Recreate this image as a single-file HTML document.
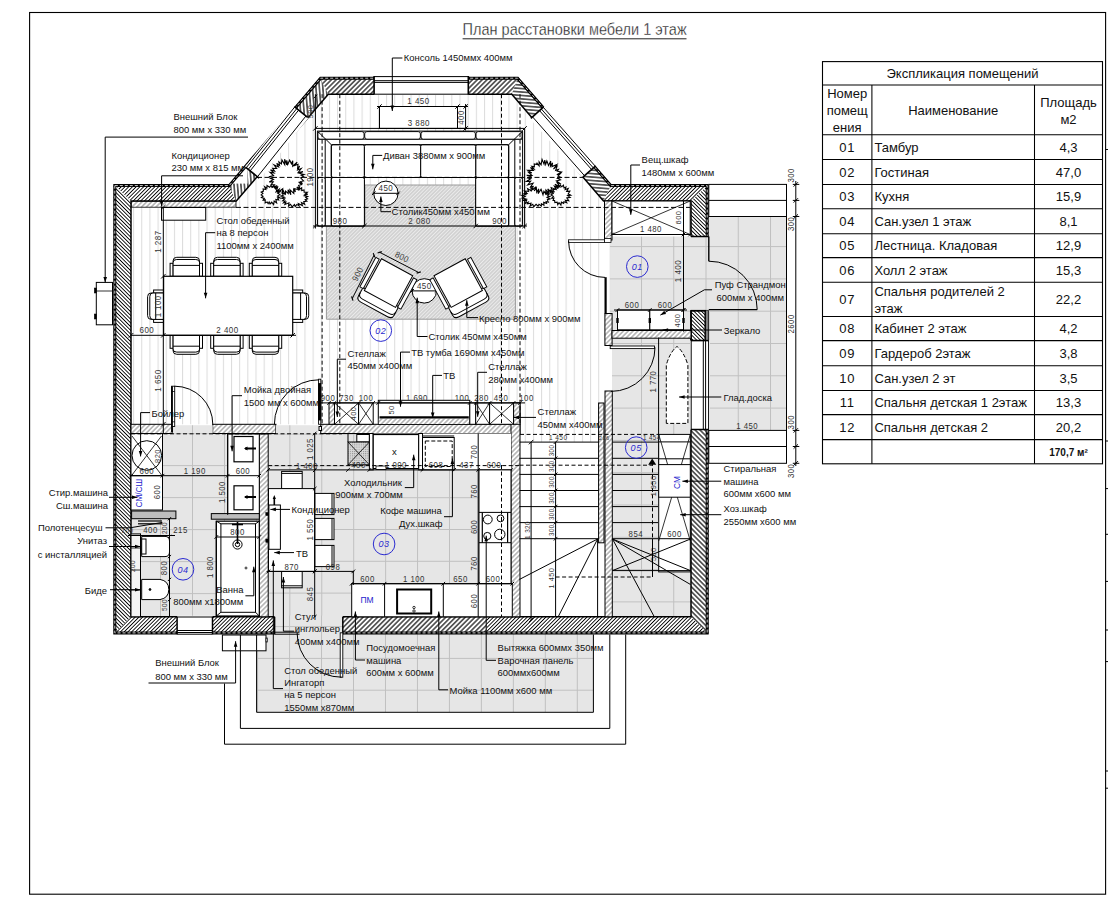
<!DOCTYPE html>
<html><head><meta charset="utf-8"><title>plan</title><style>html,body{margin:0;padding:0;background:#fff}svg{display:block}</style></head><body>
<svg width="1108" height="909" viewBox="0 0 1108 909" font-family="Liberation Sans, sans-serif">
<defs>
<pattern id="hw" width="10" height="2.6" patternUnits="userSpaceOnUse"><rect width="10" height="2.6" fill="#fff"/><line x1="0" y1="1.3" x2="10" y2="1.3" stroke="#000" stroke-width="1"/></pattern>
<pattern id="hA" width="10" height="2.64" patternUnits="userSpaceOnUse" patternTransform="rotate(-45)"><rect width="10" height="2.64" fill="#fff"/><line x1="0" y1="1.32" x2="10" y2="1.32" stroke="#000" stroke-width="0.9"/></pattern>
<pattern id="hB" width="10" height="2.64" patternUnits="userSpaceOnUse" patternTransform="rotate(45)"><rect width="10" height="2.64" fill="#fff"/><line x1="0" y1="1.32" x2="10" y2="1.32" stroke="#000" stroke-width="0.9"/></pattern>
<pattern id="hA2" width="10" height="3.44" patternUnits="userSpaceOnUse" patternTransform="rotate(-45)"><rect width="10" height="3.44" fill="#fff"/><line x1="0" y1="1.72" x2="10" y2="1.72" stroke="#000" stroke-width="1.15"/></pattern>
<pattern id="hB2" width="10" height="3.44" patternUnits="userSpaceOnUse" patternTransform="rotate(45)"><rect width="10" height="3.44" fill="#fff"/><line x1="0" y1="1.72" x2="10" y2="1.72" stroke="#000" stroke-width="1.15"/></pattern>
<pattern id="hC" width="10" height="3.44" patternUnits="userSpaceOnUse" patternTransform="rotate(-94.6)"><rect width="10" height="3.44" fill="#fff"/><line x1="0" y1="1.72" x2="10" y2="1.72" stroke="#000" stroke-width="1.15"/></pattern>
<pattern id="hD" width="10" height="3.44" patternUnits="userSpaceOnUse" patternTransform="rotate(4.6)"><rect width="10" height="3.44" fill="#fff"/><line x1="0" y1="1.72" x2="10" y2="1.72" stroke="#000" stroke-width="1.15"/></pattern>
<pattern id="hl" width="10" height="3.4" patternUnits="userSpaceOnUse" patternTransform="rotate(-45)"><rect width="10" height="3.4" fill="#fff"/><line x1="0" y1="1.7" x2="10" y2="1.7" stroke="#7c7c7c" stroke-width="0.9"/></pattern>
<pattern id="hc" width="10" height="2.56" patternUnits="userSpaceOnUse" patternTransform="rotate(-45)"><rect width="10" height="2.56" fill="#cbcbcb"/><line x1="0" y1="1.28" x2="10" y2="1.28" stroke="#ececec" stroke-width="1.25"/></pattern>
<pattern id="tk" x="353.2" y="529.0" width="31.93" height="31.8" patternUnits="userSpaceOnUse"><rect width="31.93" height="31.8" fill="#e6e6e6"/><path d="M0.5 0V31.8M0 0.5H31.93" stroke="#c0c0c0" stroke-width="1" fill="none"/></pattern>
<pattern id="tb" x="192.0" y="529.1" width="32" height="32" patternUnits="userSpaceOnUse"><rect width="32" height="32" fill="#e6e6e6"/><path d="M0.5 0V32M0 0.5H32" stroke="#c0c0c0" stroke-width="1" fill="none"/></pattern>
<pattern id="tr" x="353.0" y="657.9" width="31.97" height="31.8" patternUnits="userSpaceOnUse"><rect width="31.97" height="31.8" fill="#e6e6e6"/><path d="M0.5 0V31.8M0 0.5H31.97" stroke="#c0c0c0" stroke-width="1" fill="none"/></pattern>
<pattern id="tt" x="641.0" y="246.1" width="32.25" height="32.3" patternUnits="userSpaceOnUse"><rect width="32.25" height="32.3" fill="#e6e6e6"/><path d="M0.5 0V32.3M0 0.5H32.25" stroke="#c0c0c0" stroke-width="1" fill="none"/></pattern>
<pattern id="fl" x="133.1" y="0" width="8.16" height="20" patternUnits="userSpaceOnUse"><rect width="8.16" height="20" fill="#fff"/><line x1="0.5" y1="0" x2="0.5" y2="20" stroke="#dcdcdc" stroke-width="1"/></pattern>
</defs>
<rect width="1108" height="909" fill="#fff"/>
<path d="M131 201 L236.3 201 L328.3 94.2 L511.8 94.2 L603.5 201 L605 201 L605 403 L598.6 403 L598.6 442 L520 442 L520 424.3 L131 424.3 Z" fill="url(#fl)" stroke="none" stroke-width="0" />
<rect x="609.8" y="236.5" width="81.2" height="94" fill="url(#tt)" stroke="none" stroke-width="0" />
<rect x="691" y="236.5" width="18" height="74.2" fill="url(#tt)" stroke="none" stroke-width="0" />
<rect x="708.8" y="216.5" width="77.7" height="213.5" fill="url(#tt)" stroke="none" stroke-width="0" />
<rect x="612" y="338.2" width="79" height="278.6" fill="url(#tt)" stroke="none" stroke-width="0" />
<rect x="268.2" y="433.4" width="242.8" height="183.4" fill="url(#tk)" stroke="none" stroke-width="0" />
<rect x="131" y="433.6" width="128.3" height="183.2" fill="url(#tb)" stroke="none" stroke-width="0" />
<rect x="256.6" y="634" width="336.8" height="78" fill="url(#tr)" stroke="none" stroke-width="0" />
<path d="M326.4 226 L365 226 L365 185 L475.7 185 L475.7 226 L515.4 226 L515.4 319.2 L326.4 319.2 Z" fill="url(#hc)" stroke="#9a9a9a" stroke-width="1" />
<path d="M113.6 184.4 L228.6 184.4 L236.3 201 L131 201 Z" fill="url(#hA)" stroke="none" stroke-width="0" />
<path d="M228.6 184.4 L320 77 L328.3 94.2 L236.3 201 Z" fill="url(#hC)" stroke="none" stroke-width="0" />
<path d="M320 77 L518.2 77 L511.8 94.2 L328.3 94.2 Z" fill="url(#hA2)" stroke="none" stroke-width="0" />
<path d="M518.2 77 L611.3 184.4 L603.5 201 L511.8 94.2 Z" fill="url(#hD)" stroke="none" stroke-width="0" />
<path d="M611.3 184.4 L708.5 184.4 L691 201 L603.5 201 Z" fill="url(#hA)" stroke="none" stroke-width="0" />
<path d="M708.5 184.4 L708.5 634 L691 616.8 L691 201 Z" fill="url(#hB)" stroke="none" stroke-width="0" />
<path d="M708.5 634 L113.6 634 L131 616.8 L691 616.8 Z" fill="url(#hA)" stroke="none" stroke-width="0" />
<path d="M113.6 634 L113.6 184.4 L131 201 L131 616.8 Z" fill="url(#hB)" stroke="none" stroke-width="0" />
<rect x="171" y="164" width="76.5" height="19.6" fill="#fff" stroke="none" stroke-width="0" />
<rect x="342.8" y="616.8" width="143.7" height="17.2" fill="url(#hA2)" stroke="none" stroke-width="0" />
<path d="M691 429.5 L708.5 429.5 L708.5 634 L691 616.8 Z" fill="url(#hB2)" stroke="none" stroke-width="0" />
<path d="M114.8 185.6 L229.2 185.6 L320.6 78.2 L517.6 78.2 L610.7 185.6 L707.2 185.6 L707.2 632.9 L114.8 632.9 Z" fill="none" stroke="#000" stroke-width="3.0" stroke-linejoin="miter"/>
<path d="M114.8 185.6 L229.2 185.6 L320.6 78.2 L517.6 78.2 L610.7 185.6 L707.2 185.6 L707.2 632.9 L114.8 632.9 Z" fill="none" stroke="#fff" stroke-width="0.8"  stroke-dasharray="3 2"/>
<path d="M131 201 L236.3 201 L328.3 94.2 L511.8 94.2 L603.5 201 L691 201 L691 616.8 L131 616.8 Z" fill="none" stroke="#000" stroke-width="1.5" />
<path d="M245.03 166.86 L293.53 106.06 L308.38 117.91 L259.88 178.71 Z" fill="#fff" stroke="none" stroke-width="0" />
<line x1="246.2" y1="167.8" x2="294.7" y2="107" stroke="#000" stroke-width="1"/>
<line x1="248.23" y1="169.42" x2="296.73" y2="108.62" stroke="#000" stroke-width="1"/>
<line x1="250.11" y1="170.92" x2="298.61" y2="110.12" stroke="#000" stroke-width="1"/>
<line x1="257.46" y1="176.78" x2="305.96" y2="115.98" stroke="#000" stroke-width="1"/>
<line x1="245.81" y1="167.49" x2="259.18" y2="178.15" stroke="#000" stroke-width="1.6"/>
<line x1="294.31" y1="106.69" x2="307.68" y2="117.35" stroke="#000" stroke-width="1.6"/>
<path d="M544.42 106.31 L596.42 165.21 L582.18 177.78 L530.18 118.88 Z" fill="#fff" stroke="none" stroke-width="0" />
<line x1="543.3" y1="107.3" x2="595.3" y2="166.2" stroke="#000" stroke-width="1"/>
<line x1="541.35" y1="109.02" x2="593.35" y2="167.92" stroke="#000" stroke-width="1"/>
<line x1="539.55" y1="110.61" x2="591.55" y2="169.51" stroke="#000" stroke-width="1"/>
<line x1="532.51" y1="116.83" x2="584.51" y2="175.73" stroke="#000" stroke-width="1"/>
<line x1="543.67" y1="106.97" x2="530.86" y2="118.29" stroke="#000" stroke-width="1.6"/>
<line x1="595.67" y1="165.87" x2="582.86" y2="177.19" stroke="#000" stroke-width="1.6"/>
<rect x="374.1" y="75.5" width="94.2" height="19.5" fill="#fff" stroke="none" stroke-width="0" />
<line x1="374.1" y1="76.6" x2="468.3" y2="76.6" stroke="#000" stroke-width="1"/>
<line x1="374.1" y1="80.7" x2="468.3" y2="80.7" stroke="#000" stroke-width="1"/>
<line x1="374.1" y1="82.4" x2="468.3" y2="82.4" stroke="#000" stroke-width="1"/>
<line x1="374.1" y1="94.2" x2="468.3" y2="94.2" stroke="#000" stroke-width="1"/>
<line x1="374.1" y1="76" x2="374.1" y2="94.6" stroke="#000" stroke-width="1.6"/>
<line x1="468.3" y1="76" x2="468.3" y2="94.6" stroke="#000" stroke-width="1.6"/>
<rect x="177.1" y="615.8" width="35.4" height="19.8" fill="#fff" stroke="none" stroke-width="0" />
<line x1="177.1" y1="617" x2="212.5" y2="617" stroke="#000" stroke-width="1"/>
<line x1="177.1" y1="630.5" x2="212.5" y2="630.5" stroke="#000" stroke-width="1"/>
<line x1="177.1" y1="632.5" x2="212.5" y2="632.5" stroke="#000" stroke-width="1"/>
<line x1="177.1" y1="634.2" x2="212.5" y2="634.2" stroke="#000" stroke-width="1"/>
<line x1="177.1" y1="616.8" x2="177.1" y2="634.3" stroke="#000" stroke-width="1.5"/>
<line x1="212.5" y1="616.8" x2="212.5" y2="634.3" stroke="#000" stroke-width="1.5"/>
<rect x="274.6" y="615.5" width="68.2" height="20.1" fill="url(#tr)" stroke="none" stroke-width="0" />
<line x1="274.6" y1="616.8" x2="274.6" y2="634.3" stroke="#000" stroke-width="1.5"/>
<line x1="342.8" y1="616.8" x2="342.8" y2="634.3" stroke="#000" stroke-width="1.5"/>
<line x1="274.6" y1="632.2" x2="299.5" y2="632.2" stroke="#000" stroke-width="1"/>
<line x1="274.6" y1="634.2" x2="299.5" y2="634.2" stroke="#000" stroke-width="1"/>
<rect x="690" y="236.5" width="20" height="74.2" fill="url(#tt)" stroke="none" stroke-width="0" />
<line x1="691" y1="236.5" x2="708.8" y2="236.5" stroke="#000" stroke-width="1.5"/>
<line x1="691" y1="310.7" x2="708.8" y2="310.7" stroke="#000" stroke-width="1.5"/>
<rect x="705.2" y="310.7" width="4.8" height="30.1" fill="#fff" stroke="none" stroke-width="0" />
<rect x="691" y="310.7" width="14.2" height="29.9" fill="none" stroke="#000" stroke-width="1.5" />
<line x1="707" y1="310.7" x2="707" y2="340.6" stroke="#000" stroke-width="1"/>
<line x1="708.7" y1="310.7" x2="708.7" y2="340.6" stroke="#000" stroke-width="1"/>
<rect x="690" y="340.6" width="20" height="88.9" fill="#fff" stroke="none" stroke-width="0" />
<line x1="691.2" y1="340.6" x2="691.2" y2="429.5" stroke="#000" stroke-width="1"/>
<line x1="703.3" y1="340.6" x2="703.3" y2="429.5" stroke="#000" stroke-width="1"/>
<line x1="705.6" y1="340.6" x2="705.6" y2="429.5" stroke="#000" stroke-width="1"/>
<line x1="708.6" y1="340.6" x2="708.6" y2="429.5" stroke="#000" stroke-width="1"/>
<line x1="691" y1="340.6" x2="708.8" y2="340.6" stroke="#000" stroke-width="1.5"/>
<line x1="691" y1="429.5" x2="708.8" y2="429.5" stroke="#000" stroke-width="1.5"/>
<rect x="131.5" y="201.5" width="104.5" height="5.7" fill="url(#hl)" stroke="#000" stroke-width="0.8" />
<rect x="131" y="424.3" width="41.2" height="9.2" fill="url(#hl)" stroke="#000" stroke-width="1" />
<rect x="212.7" y="424.3" width="63.2" height="9.2" fill="url(#hl)" stroke="#000" stroke-width="1" />
<rect x="320.7" y="424.3" width="199.3" height="9.2" fill="url(#hl)" stroke="#000" stroke-width="1" />
<rect x="511" y="403" width="9" height="213.8" fill="url(#hl)" stroke="#000" stroke-width="1" />
<rect x="259.3" y="434" width="8.9" height="182.8" fill="url(#hl)" stroke="#000" stroke-width="1" />
<rect x="598.6" y="403" width="5.4" height="139.8" fill="url(#hl)" stroke="#000" stroke-width="1" />
<rect x="605" y="391" width="7.3" height="225.8" fill="url(#hl)" stroke="#000" stroke-width="1" />
<rect x="604.5" y="201" width="7.5" height="39" fill="url(#hl)" stroke="#000" stroke-width="1" />
<rect x="604.9" y="313.5" width="7.2" height="32" fill="url(#hl)" stroke="#000" stroke-width="1" />
<rect x="612" y="330.5" width="79" height="7.7" fill="url(#hl)" stroke="#000" stroke-width="1" />
<line x1="605.6" y1="277.2" x2="605.6" y2="313.5" stroke="#000" stroke-width="2.2"/>
<rect x="708.8" y="184.4" width="77.7" height="32.1" fill="#fff" stroke="#000" stroke-width="1" />
<line x1="708.8" y1="200.4" x2="786.5" y2="200.4" stroke="#000" stroke-width="1"/>
<line x1="786.5" y1="184.4" x2="786.5" y2="463" stroke="#000" stroke-width="1"/>
<rect x="708.8" y="430.4" width="77.7" height="32.9" fill="#fff" stroke="#000" stroke-width="1" />
<line x1="708.8" y1="446.5" x2="786.5" y2="446.5" stroke="#000" stroke-width="1"/>
<path d="M256.6 651 L256.6 712.3 L593.4 712.3 L593.4 634.5" fill="none" stroke="#000" stroke-width="1" />
<path d="M240.4 635 L240.4 728.4 L609.8 728.4 L609.8 634.5" fill="none" stroke="#000" stroke-width="1" />
<path d="M224.5 683.5 L224.5 744.2 L625.7 744.2 L625.7 634.5" fill="none" stroke="#000" stroke-width="1" />
<rect x="379.5" y="106.5" width="78" height="21.9" fill="#fff" stroke="#000" stroke-width="1" />
<path d="M317.4 131.1 L522.6 131.1 L522.6 226 L475.7 226 L475.7 177.5 L364.4 177.5 L364.4 226 L317.4 226 Z" fill="#fff" stroke="#000" stroke-width="1" />
<line x1="315.4" y1="128.4" x2="524.6" y2="128.4" stroke="#000" stroke-width="1"/>
<line x1="315.4" y1="128.4" x2="315.4" y2="228.5" stroke="#000" stroke-width="1"/>
<line x1="524.6" y1="128.4" x2="524.6" y2="228.5" stroke="#000" stroke-width="1"/>
<line x1="317.4" y1="139.2" x2="522.6" y2="139.2" stroke="#000" stroke-width="1"/>
<line x1="325.2" y1="139.2" x2="325.2" y2="226" stroke="#000" stroke-width="1"/>
<line x1="514.8" y1="139.2" x2="514.8" y2="226" stroke="#000" stroke-width="1"/>
<rect x="317.9" y="131.6" width="46.2" height="7.6" fill="#fff" stroke="#000" stroke-width="1" rx="2.2" />
<rect x="364.7" y="131.6" width="55.7" height="7.6" fill="#fff" stroke="#000" stroke-width="1" rx="2.2" />
<rect x="421" y="131.6" width="54.4" height="7.6" fill="#fff" stroke="#000" stroke-width="1" rx="2.2" />
<rect x="476" y="131.6" width="46.1" height="7.6" fill="#fff" stroke="#000" stroke-width="1" rx="2.2" />
<line x1="317.4" y1="131.1" x2="331.3" y2="144.7" stroke="#000" stroke-width="1"/>
<line x1="522.6" y1="131.1" x2="508.7" y2="144.7" stroke="#000" stroke-width="1"/>
<rect x="331.3" y="144.7" width="33.1" height="32.8" fill="#fff" stroke="#000" stroke-width="1" rx="1.8" />
<rect x="475.7" y="144.7" width="33" height="32.8" fill="#fff" stroke="#000" stroke-width="1" rx="1.8" />
<rect x="364.4" y="144.7" width="56.3" height="32.8" fill="#fff" stroke="#000" stroke-width="1" rx="1.8" />
<rect x="420.7" y="144.7" width="55" height="32.8" fill="#fff" stroke="#000" stroke-width="1" rx="1.8" />
<rect x="331.3" y="177.5" width="33.1" height="48.5" fill="#fff" stroke="#000" stroke-width="1" rx="1.8" />
<rect x="475.7" y="177.5" width="33" height="48.5" fill="#fff" stroke="#000" stroke-width="1" rx="1.8" />
<rect x="317.6" y="177.5" width="7.6" height="48.5" fill="#fff" stroke="#000" stroke-width="1" rx="1.8" />
<rect x="514.8" y="177.5" width="7.6" height="48.5" fill="#fff" stroke="#000" stroke-width="1" rx="1.8" />
<line x1="325.2" y1="177.5" x2="331.3" y2="177.5" stroke="#000" stroke-width="1"/>
<line x1="508.7" y1="177.5" x2="514.8" y2="177.5" stroke="#000" stroke-width="1"/>
<line x1="331.3" y1="144.7" x2="508.7" y2="144.7" stroke="#000" stroke-width="1"/>
<line x1="331.3" y1="144.7" x2="331.3" y2="226" stroke="#000" stroke-width="1"/>
<line x1="508.7" y1="144.7" x2="508.7" y2="226" stroke="#000" stroke-width="1"/>
<circle cx="385.9" cy="193.3" r="12.2" fill="#fff" stroke="#000" stroke-width="1"/>
<circle cx="424.3" cy="290.9" r="12.2" fill="#fff" stroke="#000" stroke-width="1"/>
<line x1="372.5" y1="193.3" x2="399.3" y2="193.3" stroke="#000" stroke-width="1"/>
<line x1="411" y1="290.9" x2="437.6" y2="290.9" stroke="#000" stroke-width="1"/>
<line x1="371.9" y1="195.1" x2="375.5" y2="191.5" stroke="#000" stroke-width="1"/>
<line x1="396.3" y1="195.1" x2="399.9" y2="191.5" stroke="#000" stroke-width="1"/>
<line x1="410.3" y1="292.7" x2="413.9" y2="289.1" stroke="#000" stroke-width="1"/>
<line x1="434.7" y1="292.7" x2="438.3" y2="289.1" stroke="#000" stroke-width="1"/>
<g transform="translate(381.5 258.8) rotate(28.5)">
<path d="M-2.5 34 L38 34 L38 43.5 Q38 48 33 48 L2.5 48 Q-2.5 48 -2.5 43.5 Z" fill="#fff" stroke="#000" stroke-width="1" />
<path d="M-2.5 40 Q-2.5 44.5 2.5 44.5 L33 44.5 Q38 44.5 38 40" fill="none" stroke="#000" stroke-width="1" />
<rect x="-5.6" y="1.5" width="3.8" height="33.5" fill="#fff" stroke="#000" stroke-width="0.9" />
<rect x="37.3" y="1.5" width="3.8" height="33.5" fill="#fff" stroke="#000" stroke-width="0.9" />
<rect x="0" y="0" width="35.5" height="36" fill="#fff" stroke="#000" stroke-width="1" />
</g>
<g transform="translate(465.2 258.8) scale(-1 1) rotate(28.5)">
<path d="M-2.5 34 L38 34 L38 43.5 Q38 48 33 48 L2.5 48 Q-2.5 48 -2.5 43.5 Z" fill="#fff" stroke="#000" stroke-width="1" />
<path d="M-2.5 40 Q-2.5 44.5 2.5 44.5 L33 44.5 Q38 44.5 38 40" fill="none" stroke="#000" stroke-width="1" />
<rect x="-5.6" y="1.5" width="3.8" height="33.5" fill="#fff" stroke="#000" stroke-width="0.9" />
<rect x="37.3" y="1.5" width="3.8" height="33.5" fill="#fff" stroke="#000" stroke-width="0.9" />
<rect x="0" y="0" width="35.5" height="36" fill="#fff" stroke="#000" stroke-width="1" />
</g>
<line x1="379.7" y1="252.3" x2="418.7" y2="272.5" stroke="#000" stroke-width="1"/>
<line x1="377.6" y1="252.97" x2="381.8" y2="251.63" stroke="#000" stroke-width="1.2"/>
<line x1="416.6" y1="273.17" x2="420.8" y2="271.83" stroke="#000" stroke-width="1.2"/>
<text transform="translate(400.67 259.56) rotate(27.38183994942497) scale(0.93 1)" font-size="8.6" text-anchor="middle" fill="#333" letter-spacing="0.5">800</text>
<line x1="352.3" y1="298.5" x2="374" y2="255.2" stroke="#000" stroke-width="1"/>
<line x1="352.99" y1="300.59" x2="351.61" y2="296.41" stroke="#000" stroke-width="1.2"/>
<line x1="374.69" y1="257.29" x2="373.31" y2="253.11" stroke="#000" stroke-width="1.2"/>
<text transform="translate(360.29 275.42) rotate(-63.382044147733005) scale(0.93 1)" font-size="8.6" text-anchor="middle" fill="#333" letter-spacing="0.5">900</text>
<g transform="translate(186.3 276.3)">
<rect x="-16.2" y="-13" width="3" height="13" fill="#fff" stroke="#000" stroke-width="1" />
<rect x="13.2" y="-13" width="3" height="13" fill="#fff" stroke="#000" stroke-width="1" />
<path d="M-13.2 0 L-13.2 -15.5 Q-13.2 -19 -9.5 -19 L9.5 -19 Q13.2 -19 13.2 -15.5 L13.2 0 Z" fill="#fff" stroke="#000" stroke-width="1" />
<path d="M-13.2 -14 Q-13.2 -16.8 -9.5 -16.8 L9.5 -16.8 Q13.2 -16.8 13.2 -14" fill="none" stroke="#000" stroke-width="1" />
<line x1="-13.2" y1="-10.9" x2="13.2" y2="-10.9" stroke="#000" stroke-width="1"/>
</g>
<g transform="translate(186.3 335.3) rotate(180)">
<rect x="-16.2" y="-13" width="3" height="13" fill="#fff" stroke="#000" stroke-width="1" />
<rect x="13.2" y="-13" width="3" height="13" fill="#fff" stroke="#000" stroke-width="1" />
<path d="M-13.2 0 L-13.2 -15.5 Q-13.2 -19 -9.5 -19 L9.5 -19 Q13.2 -19 13.2 -15.5 L13.2 0 Z" fill="#fff" stroke="#000" stroke-width="1" />
<path d="M-13.2 -14 Q-13.2 -16.8 -9.5 -16.8 L9.5 -16.8 Q13.2 -16.8 13.2 -14" fill="none" stroke="#000" stroke-width="1" />
<line x1="-13.2" y1="-10.9" x2="13.2" y2="-10.9" stroke="#000" stroke-width="1"/>
</g>
<g transform="translate(226.9 276.3)">
<rect x="-16.2" y="-13" width="3" height="13" fill="#fff" stroke="#000" stroke-width="1" />
<rect x="13.2" y="-13" width="3" height="13" fill="#fff" stroke="#000" stroke-width="1" />
<path d="M-13.2 0 L-13.2 -15.5 Q-13.2 -19 -9.5 -19 L9.5 -19 Q13.2 -19 13.2 -15.5 L13.2 0 Z" fill="#fff" stroke="#000" stroke-width="1" />
<path d="M-13.2 -14 Q-13.2 -16.8 -9.5 -16.8 L9.5 -16.8 Q13.2 -16.8 13.2 -14" fill="none" stroke="#000" stroke-width="1" />
<line x1="-13.2" y1="-10.9" x2="13.2" y2="-10.9" stroke="#000" stroke-width="1"/>
</g>
<g transform="translate(226.9 335.3) rotate(180)">
<rect x="-16.2" y="-13" width="3" height="13" fill="#fff" stroke="#000" stroke-width="1" />
<rect x="13.2" y="-13" width="3" height="13" fill="#fff" stroke="#000" stroke-width="1" />
<path d="M-13.2 0 L-13.2 -15.5 Q-13.2 -19 -9.5 -19 L9.5 -19 Q13.2 -19 13.2 -15.5 L13.2 0 Z" fill="#fff" stroke="#000" stroke-width="1" />
<path d="M-13.2 -14 Q-13.2 -16.8 -9.5 -16.8 L9.5 -16.8 Q13.2 -16.8 13.2 -14" fill="none" stroke="#000" stroke-width="1" />
<line x1="-13.2" y1="-10.9" x2="13.2" y2="-10.9" stroke="#000" stroke-width="1"/>
</g>
<g transform="translate(265.5 276.3)">
<rect x="-16.2" y="-13" width="3" height="13" fill="#fff" stroke="#000" stroke-width="1" />
<rect x="13.2" y="-13" width="3" height="13" fill="#fff" stroke="#000" stroke-width="1" />
<path d="M-13.2 0 L-13.2 -15.5 Q-13.2 -19 -9.5 -19 L9.5 -19 Q13.2 -19 13.2 -15.5 L13.2 0 Z" fill="#fff" stroke="#000" stroke-width="1" />
<path d="M-13.2 -14 Q-13.2 -16.8 -9.5 -16.8 L9.5 -16.8 Q13.2 -16.8 13.2 -14" fill="none" stroke="#000" stroke-width="1" />
<line x1="-13.2" y1="-10.9" x2="13.2" y2="-10.9" stroke="#000" stroke-width="1"/>
</g>
<g transform="translate(265.5 335.3) rotate(180)">
<rect x="-16.2" y="-13" width="3" height="13" fill="#fff" stroke="#000" stroke-width="1" />
<rect x="13.2" y="-13" width="3" height="13" fill="#fff" stroke="#000" stroke-width="1" />
<path d="M-13.2 0 L-13.2 -15.5 Q-13.2 -19 -9.5 -19 L9.5 -19 Q13.2 -19 13.2 -15.5 L13.2 0 Z" fill="#fff" stroke="#000" stroke-width="1" />
<path d="M-13.2 -14 Q-13.2 -16.8 -9.5 -16.8 L9.5 -16.8 Q13.2 -16.8 13.2 -14" fill="none" stroke="#000" stroke-width="1" />
<line x1="-13.2" y1="-10.9" x2="13.2" y2="-10.9" stroke="#000" stroke-width="1"/>
</g>
<g transform="translate(166.6 306.2) rotate(-90)">
<rect x="-16.2" y="-13" width="3" height="13" fill="#fff" stroke="#000" stroke-width="1" />
<rect x="13.2" y="-13" width="3" height="13" fill="#fff" stroke="#000" stroke-width="1" />
<path d="M-13.2 0 L-13.2 -15.5 Q-13.2 -19 -9.5 -19 L9.5 -19 Q13.2 -19 13.2 -15.5 L13.2 0 Z" fill="#fff" stroke="#000" stroke-width="1" />
<path d="M-13.2 -14 Q-13.2 -16.8 -9.5 -16.8 L9.5 -16.8 Q13.2 -16.8 13.2 -14" fill="none" stroke="#000" stroke-width="1" />
<line x1="-13.2" y1="-10.9" x2="13.2" y2="-10.9" stroke="#000" stroke-width="1"/>
</g>
<g transform="translate(289.7 306.2) rotate(90)">
<rect x="-16.2" y="-13" width="3" height="13" fill="#fff" stroke="#000" stroke-width="1" />
<rect x="13.2" y="-13" width="3" height="13" fill="#fff" stroke="#000" stroke-width="1" />
<path d="M-13.2 0 L-13.2 -15.5 Q-13.2 -19 -9.5 -19 L9.5 -19 Q13.2 -19 13.2 -15.5 L13.2 0 Z" fill="#fff" stroke="#000" stroke-width="1" />
<path d="M-13.2 -14 Q-13.2 -16.8 -9.5 -16.8 L9.5 -16.8 Q13.2 -16.8 13.2 -14" fill="none" stroke="#000" stroke-width="1" />
<line x1="-13.2" y1="-10.9" x2="13.2" y2="-10.9" stroke="#000" stroke-width="1"/>
</g>
<rect x="163.6" y="276.3" width="129.1" height="59" fill="#fff" stroke="#000" stroke-width="1.2" />
<path d="M279.88 194.6 L277.51 196.02 L279.67 197.79 L277.52 197.87 L278.7 200.02 L275.83 199.52 L276.63 202.94 L274.16 201.07 L273.63 204.63 L271.69 202.15 L270.08 203.93 L269.15 201.95 L268.12 203.7 L267.15 201.97 L265.13 202.96 L265.28 199.94 L263.15 200.15 L264.38 198.4 L261.38 197.58 L263.06 196.17 L261.13 194.85 L262.93 193.31 L261.18 192.06 L263.45 191.13 L263.11 189.04 L265.89 189.51 L264.62 186.73 L266.9 188.23 L267.01 185.54 L269.64 187.21 L271.03 185.32 L271.98 187.25 L273.67 185.64 L274.58 187.72 L276.41 186.75 L275.83 188.99 L279.07 188.87 L277.22 191.74 L280 191.6 L277.94 193.2 Z" fill="#fff" stroke="#000" stroke-width="1.1" stroke-linejoin="miter"/>
<path d="M307.63 196.42 L305.7 197.39 L307.59 198.8 L305.17 199.75 L306.85 201.16 L303.71 201.72 L304.67 204.29 L301.47 202.6 L302.48 205.61 L298.3 203.62 L299.11 205.9 L296.85 204.4 L295.2 206.52 L294.46 204.51 L292.1 206.78 L290.5 204.32 L288.5 206.02 L288.99 202.82 L284.85 204.49 L285.93 202.14 L283.57 202.73 L285.13 200.98 L282.64 200.75 L284.77 198.88 L281.61 198.17 L284.39 197.24 L280.96 196.03 L283.29 195.2 L282.3 193.15 L285.17 193.33 L283.74 191.31 L286.36 190.76 L285.66 189.1 L288.71 190.84 L288.57 188.07 L291.75 189.71 L290.94 186.49 L293.9 189.46 L295.38 187.39 L296.71 188.52 L299.46 187.15 L298.7 189.8 L301.68 187.81 L301.71 190.52 L304.03 190.03 L304.15 192.1 L307.38 192.16 L305.05 194.1 L307.8 193.98 L304.31 195.77 Z" fill="#fff" stroke="#000" stroke-width="1.1" stroke-linejoin="miter"/>
<path d="M303.56 176.26 L300.65 177.97 L303.53 180.97 L300.65 181.54 L302.47 183.64 L298.66 182.03 L301.59 184.68 L298.56 185.3 L299.76 188.42 L296.81 187.03 L299.1 189.69 L294.6 188.77 L295.39 191.95 L293.62 189.37 L293.83 193.51 L289.95 189.87 L290.86 194.8 L288.07 189.68 L288.24 193.43 L285.52 191.09 L285.27 194.92 L283.12 190.33 L282.01 193.71 L282.71 188.71 L277.99 192.27 L279.2 189.29 L276.15 191.66 L277.98 186.35 L275.01 189.04 L276.46 185.98 L272.92 187.06 L274.59 184.66 L271.27 184.46 L273.23 181.79 L269.22 181.9 L273.48 179.45 L270.65 178.51 L274.07 177.29 L268.86 176.75 L273.53 175.48 L270.08 172.42 L274 173.03 L270.52 169.81 L274.65 171.22 L272.62 168.34 L276.61 168.52 L274 164.9 L278.51 166.91 L276.71 163.33 L279.54 165.53 L278.9 161.94 L281.38 163.99 L281.91 159.97 L284.75 164.62 L284.61 159.29 L286.78 164.73 L286.75 160.26 L287.78 164.54 L289.63 159.99 L291.46 163.82 L292.73 160.67 L292.71 166.16 L297.12 162.24 L295 165.45 L298.04 164.28 L297.6 168.12 L299.68 166.05 L297.65 169.99 L301.22 168.55 L298.2 172.47 L303 171.66 L299.23 173.23 L303.9 174.56 L301.19 175.24 Z" fill="#fff" stroke="#000" stroke-width="1.1" stroke-linejoin="miter"/>
<path d="M570.71 195.16 L567.62 195.59 L570.14 197.38 L566.81 197.84 L568.74 200.74 L565.33 200.12 L566.77 202.83 L563.89 201.79 L563.66 203.36 L561.4 202.2 L560.93 205.06 L559.03 202.62 L557.74 204.62 L557.14 202.12 L554.85 202.53 L554.64 200.49 L553.07 200.45 L553.95 198.06 L551.71 198.08 L553.38 196.3 L550.93 195.01 L553.23 193.43 L551.54 191.92 L554.15 191.76 L552.87 189.67 L555.16 189.26 L554.42 187.18 L557.53 188.35 L557.78 185.53 L559.15 186.92 L560.28 185.07 L561.86 186.76 L563.35 185.1 L564.08 188 L565.91 187.03 L565.14 189.52 L568.2 188.5 L566.66 191.38 L569.88 191.19 L568.13 193.93 Z" fill="#fff" stroke="#000" stroke-width="1.1" stroke-linejoin="miter"/>
<path d="M549.86 196.55 L547.13 197.58 L549.92 198.88 L547.38 199.67 L548.29 202.16 L546.08 201.54 L546.6 203.38 L543.69 202.4 L543.95 205.27 L541.43 203.75 L541.39 205.87 L538.99 204.27 L538.02 206.16 L536.1 204.26 L533.76 206.68 L532.78 204.35 L529.99 206.22 L531.02 203.26 L527.51 203.82 L528.28 202.12 L525.31 203.42 L526.64 200.31 L522.98 200.37 L526.17 199.08 L522.19 198.11 L525.17 196.5 L522.11 195.37 L525.81 194.62 L524.28 193.61 L527.08 193.42 L524.44 191.05 L528.55 191.3 L527.65 188.78 L531.21 190.76 L530.89 187.27 L533.16 189.33 L534.3 187.46 L536.15 189.32 L536.66 187.06 L538.69 189.54 L541.44 186.76 L540.98 189.87 L544.05 188.1 L543.75 190.83 L546.18 190.42 L544.58 192.14 L548.49 192.34 L545.71 194.21 L549.29 193.88 L547.54 195.95 Z" fill="#fff" stroke="#000" stroke-width="1.1" stroke-linejoin="miter"/>
<path d="M561.01 177.55 L557.51 178.34 L560.4 179.88 L556.39 180.95 L561.04 184.17 L556.66 181.93 L559.85 186.63 L554.95 184.28 L558.81 188.04 L554.36 186.17 L556.2 189.55 L551.14 187.6 L552.7 192.08 L549.87 189.73 L551.51 193.63 L547.84 188.88 L548.83 193.62 L545.93 189.92 L545.65 193.86 L543.91 191.22 L543 194.78 L541.05 189.24 L538.14 193.68 L538.79 188.84 L536.76 192.34 L536.37 188.23 L534.25 190.96 L536.24 186.63 L531.79 190.12 L533.22 186.42 L530.61 186.87 L533.07 183.32 L527.64 184.89 L530.67 181.24 L526.51 181.46 L530.74 178.76 L527.96 178.14 L530.88 176.83 L526.71 175.2 L531.9 175.44 L528.52 172.31 L531.84 172.93 L527.79 170.34 L533.31 170.36 L530.43 167.64 L533.98 168.94 L531.83 166.39 L534.35 166.9 L534.29 163.98 L537.18 164.61 L536.7 162.72 L539.11 165.9 L539.11 161.84 L541.09 164.84 L542.05 159.41 L544.03 164.12 L544.76 160.09 L545.67 164.37 L546.87 160.84 L548.56 165.52 L550.76 161.1 L550.46 166.17 L552.57 162.91 L551.99 166.53 L556.85 164.47 L553.5 169.15 L557.36 165.44 L555.63 170.33 L558.39 169.56 L557.24 171.18 L561.47 171.92 L556.82 174.7 L560.32 173.69 L558 176.08 Z" fill="#fff" stroke="#000" stroke-width="1.1" stroke-linejoin="miter"/>
<rect x="329" y="402.9" width="5.5" height="21.4" fill="url(#hl)" stroke="#000" stroke-width="1" />
<rect x="334.5" y="402.9" width="24.1" height="21.4" fill="#fff" stroke="#000" stroke-width="1" />
<line x1="334.5" y1="402.9" x2="358.6" y2="424.3" stroke="#000" stroke-width="0.8"/>
<line x1="334.5" y1="424.3" x2="358.6" y2="402.9" stroke="#000" stroke-width="0.8"/>
<rect x="358.6" y="402.9" width="14.6" height="21.4" fill="#fff" stroke="#000" stroke-width="1" />
<line x1="358.6" y1="402.9" x2="373.2" y2="424.3" stroke="#000" stroke-width="0.8"/>
<line x1="358.6" y1="424.3" x2="373.2" y2="402.9" stroke="#000" stroke-width="0.8"/>
<rect x="378.3" y="400.3" width="91.5" height="24" fill="#fff" stroke="#000" stroke-width="1" />
<rect x="378.8" y="418.6" width="90.5" height="5.4" fill="url(#hl)" stroke="none" stroke-width="0" />
<line x1="379.5" y1="417.4" x2="468.8" y2="417.4" stroke="#000" stroke-width="2.2"/>
<line x1="378.3" y1="402.9" x2="469.8" y2="402.9" stroke="#000" stroke-width="1"/>
<rect x="469.8" y="402.9" width="5.9" height="21.4" fill="#fff" stroke="#000" stroke-width="1" />
<rect x="475.7" y="402.9" width="13.9" height="21.4" fill="#fff" stroke="#000" stroke-width="1" />
<line x1="475.7" y1="402.9" x2="489.6" y2="424.3" stroke="#000" stroke-width="0.8"/>
<line x1="475.7" y1="424.3" x2="489.6" y2="402.9" stroke="#000" stroke-width="0.8"/>
<rect x="489.6" y="402.9" width="24" height="21.4" fill="#fff" stroke="#000" stroke-width="1" />
<line x1="489.6" y1="402.9" x2="513.6" y2="424.3" stroke="#000" stroke-width="0.8"/>
<line x1="489.6" y1="424.3" x2="513.6" y2="402.9" stroke="#000" stroke-width="0.8"/>
<rect x="513.6" y="402.9" width="6.4" height="21.4" fill="url(#hl)" stroke="#000" stroke-width="1" />
<line x1="320" y1="402.9" x2="525" y2="402.9" stroke="#000" stroke-width="1"/>
<line x1="327.2" y1="404.7" x2="330.8" y2="401.1" stroke="#000" stroke-width="1"/>
<line x1="332.7" y1="404.7" x2="336.3" y2="401.1" stroke="#000" stroke-width="1"/>
<line x1="356.8" y1="404.7" x2="360.4" y2="401.1" stroke="#000" stroke-width="1"/>
<line x1="371.4" y1="404.7" x2="375" y2="401.1" stroke="#000" stroke-width="1"/>
<line x1="376.5" y1="404.7" x2="380.1" y2="401.1" stroke="#000" stroke-width="1"/>
<line x1="468" y1="404.7" x2="471.6" y2="401.1" stroke="#000" stroke-width="1"/>
<line x1="473.9" y1="404.7" x2="477.5" y2="401.1" stroke="#000" stroke-width="1"/>
<line x1="487.8" y1="404.7" x2="491.4" y2="401.1" stroke="#000" stroke-width="1"/>
<line x1="511.8" y1="404.7" x2="515.4" y2="401.1" stroke="#000" stroke-width="1"/>
<line x1="518.2" y1="404.7" x2="521.8" y2="401.1" stroke="#000" stroke-width="1"/>
<text transform="translate(328 400.6) rotate(0) scale(0.93 1)" font-size="8.4" text-anchor="middle" fill="#333" letter-spacing="0.5">900</text>
<text transform="translate(346.5 400.6) rotate(0) scale(0.93 1)" font-size="8.4" text-anchor="middle" fill="#333" letter-spacing="0.5">730</text>
<text transform="translate(366 400.6) rotate(0) scale(0.93 1)" font-size="8.4" text-anchor="middle" fill="#333" letter-spacing="0.5">100</text>
<text transform="translate(417 400.6) rotate(0) scale(0.93 1)" font-size="8.4" text-anchor="middle" fill="#333" letter-spacing="0.5">1 690</text>
<text transform="translate(462 400.6) rotate(0) scale(0.93 1)" font-size="8.4" text-anchor="middle" fill="#333" letter-spacing="0.5">100</text>
<text transform="translate(481.5 400.6) rotate(0) scale(0.93 1)" font-size="8.4" text-anchor="middle" fill="#333" letter-spacing="0.5">280</text>
<text transform="translate(501 400.6) rotate(0) scale(0.93 1)" font-size="8.4" text-anchor="middle" fill="#333" letter-spacing="0.5">450</text>
<text transform="translate(526.5 400.6) rotate(0) scale(0.93 1)" font-size="8.4" text-anchor="middle" fill="#333" letter-spacing="0.5">100</text>
<text transform="translate(356.3 413.5) rotate(-90) scale(0.93 1)" font-size="8" text-anchor="middle" fill="#333" letter-spacing="0.5">400</text>
<text transform="translate(393.8 410) rotate(-90) scale(0.93 1)" font-size="8" text-anchor="middle" fill="#333" letter-spacing="0.5">50</text>
<rect x="369.4" y="433.5" width="141.6" height="36.4" fill="#fff" stroke="none" stroke-width="0" />
<pattern id="dk" width="2.2" height="2.2" patternUnits="userSpaceOnUse"><rect width="2.2" height="2.2" fill="#d9d9d9"/><rect width="1" height="1" fill="#8c8c8c"/></pattern>
<rect x="356.8" y="434.5" width="12.6" height="7.5" fill="#fff" stroke="#000" stroke-width="1" />
<line x1="348" y1="433.5" x2="348" y2="442" stroke="#000" stroke-width="1"/>
<rect x="348" y="442" width="21.4" height="22.8" fill="url(#dk)" stroke="#000" stroke-width="1" />
<line x1="348" y1="442" x2="369.4" y2="464.8" stroke="#000" stroke-width="0.8"/>
<line x1="348" y1="464.8" x2="369.4" y2="442" stroke="#000" stroke-width="0.8"/>
<rect x="369.4" y="433.5" width="3.8" height="36.4" fill="#fff" stroke="#000" stroke-width="1" />
<rect x="373.2" y="434.5" width="45.5" height="34.1" fill="#fff" stroke="#000" stroke-width="1.2" />
<rect x="376" y="466" width="10" height="3.5" fill="#fff" stroke="#000" stroke-width="0.8" />
<rect x="418.7" y="433.5" width="3.8" height="36.4" fill="#fff" stroke="#000" stroke-width="1" />
<rect x="422.5" y="437.5" width="31.7" height="32.4" fill="#fff" stroke="#000" stroke-width="1" />
<line x1="422.5" y1="436" x2="454.2" y2="436" stroke="#000" stroke-width="1"/>
<rect x="425.3" y="441" width="26.9" height="25.5" fill="none" stroke="#000" stroke-width="1" stroke-dasharray="4 2"/>
<line x1="478.2" y1="433.5" x2="478.2" y2="583.7" stroke="#000" stroke-width="1"/>
<text x="392" y="455" font-size="9.5" text-anchor="start" fill="#111" >x</text>
<line x1="268.2" y1="465.6" x2="520" y2="465.6" stroke="#000" stroke-width="1" stroke-dasharray="4 2.5"/>
<line x1="268.2" y1="469.9" x2="512.3" y2="469.9" stroke="#000" stroke-width="1"/>
<line x1="266.4" y1="471.7" x2="270" y2="468.1" stroke="#000" stroke-width="1"/>
<line x1="346.2" y1="471.7" x2="349.8" y2="468.1" stroke="#000" stroke-width="1"/>
<line x1="367.6" y1="471.7" x2="371.2" y2="468.1" stroke="#000" stroke-width="1"/>
<line x1="420.7" y1="471.7" x2="424.3" y2="468.1" stroke="#000" stroke-width="1"/>
<line x1="452.4" y1="471.7" x2="456" y2="468.1" stroke="#000" stroke-width="1"/>
<line x1="476.4" y1="471.7" x2="480" y2="468.1" stroke="#000" stroke-width="1"/>
<line x1="509.2" y1="471.7" x2="512.8" y2="468.1" stroke="#000" stroke-width="1"/>
<text transform="translate(358.5 467.8) rotate(0) scale(0.93 1)" font-size="8.4" text-anchor="middle" fill="#333" letter-spacing="0.5">400</text>
<text transform="translate(396 467.8) rotate(0) scale(0.93 1)" font-size="8.4" text-anchor="middle" fill="#333" letter-spacing="0.5">1 000</text>
<text transform="translate(436 467.8) rotate(0) scale(0.93 1)" font-size="8.4" text-anchor="middle" fill="#333" letter-spacing="0.5">608</text>
<text transform="translate(466.5 467.8) rotate(0) scale(0.93 1)" font-size="8.4" text-anchor="middle" fill="#333" letter-spacing="0.5">437</text>
<text transform="translate(494 467.8) rotate(0) scale(0.93 1)" font-size="8.4" text-anchor="middle" fill="#333" letter-spacing="0.5">600</text>
<rect x="479" y="469.9" width="32" height="113.8" fill="#fff" stroke="#000" stroke-width="1" />
<line x1="479" y1="512.4" x2="511" y2="512.4" stroke="#000" stroke-width="1"/>
<line x1="479" y1="542.7" x2="511" y2="542.7" stroke="#000" stroke-width="1"/>
<line x1="482.3" y1="512.4" x2="482.3" y2="542.7" stroke="#000" stroke-width="1.2"/>
<line x1="507.6" y1="512.4" x2="507.6" y2="542.7" stroke="#000" stroke-width="1.2"/>
<circle cx="487.8" cy="519.5" r="4.4" fill="#fff" stroke="#000" stroke-width="1"/>
<circle cx="500.5" cy="518.4" r="3.4" fill="#fff" stroke="#000" stroke-width="1"/>
<circle cx="487.3" cy="536" r="3.6" fill="#fff" stroke="#000" stroke-width="1"/>
<circle cx="499.8" cy="534.4" r="5.2" fill="#fff" stroke="#000" stroke-width="1"/>
<text transform="translate(477 452) rotate(-90) scale(0.93 1)" font-size="8.4" text-anchor="middle" fill="#333" letter-spacing="0.5">700</text>
<text transform="translate(477 491.4) rotate(-90) scale(0.93 1)" font-size="8.4" text-anchor="middle" fill="#333" letter-spacing="0.5">760</text>
<text transform="translate(477 526.8) rotate(-90) scale(0.93 1)" font-size="8.4" text-anchor="middle" fill="#333" letter-spacing="0.5">600</text>
<text transform="translate(477 563.5) rotate(-90) scale(0.93 1)" font-size="8.4" text-anchor="middle" fill="#333" letter-spacing="0.5">760</text>
<rect x="351.7" y="583.7" width="160.6" height="33.1" fill="#fff" stroke="#000" stroke-width="1" />
<line x1="384.6" y1="583.7" x2="384.6" y2="616.8" stroke="#000" stroke-width="1"/>
<line x1="443.3" y1="583.7" x2="443.3" y2="616.8" stroke="#000" stroke-width="1"/>
<line x1="478.2" y1="583.7" x2="478.2" y2="616.8" stroke="#000" stroke-width="1"/>
<rect x="397.1" y="589.5" width="34.1" height="24" fill="#fff" stroke="#000" stroke-width="2" />
<circle cx="414" cy="607.5" r="1.2" fill="none" stroke="#000" stroke-width="0.8"/>
<circle cx="414" cy="611" r="1.2" fill="none" stroke="#000" stroke-width="0.8"/>
<line x1="351.7" y1="583.7" x2="512.3" y2="583.7" stroke="#000" stroke-width="1"/>
<line x1="349.9" y1="585.5" x2="353.5" y2="581.9" stroke="#000" stroke-width="1"/>
<line x1="382.8" y1="585.5" x2="386.4" y2="581.9" stroke="#000" stroke-width="1"/>
<line x1="441.5" y1="585.5" x2="445.1" y2="581.9" stroke="#000" stroke-width="1"/>
<line x1="476.4" y1="585.5" x2="480" y2="581.9" stroke="#000" stroke-width="1"/>
<line x1="510.5" y1="585.5" x2="514.1" y2="581.9" stroke="#000" stroke-width="1"/>
<text transform="translate(367.5 581.5) rotate(0) scale(0.93 1)" font-size="8.4" text-anchor="middle" fill="#333" letter-spacing="0.5">600</text>
<text transform="translate(414 581.5) rotate(0) scale(0.93 1)" font-size="8.4" text-anchor="middle" fill="#333" letter-spacing="0.5">1 100</text>
<text transform="translate(460.5 581.5) rotate(0) scale(0.93 1)" font-size="8.4" text-anchor="middle" fill="#333" letter-spacing="0.5">650</text>
<text transform="translate(493 581.5) rotate(0) scale(0.93 1)" font-size="8.4" text-anchor="middle" fill="#333" letter-spacing="0.5">600</text>
<text transform="translate(476.5 601) rotate(-90) scale(0.93 1)" font-size="8.4" text-anchor="middle" fill="#333" letter-spacing="0.5">600</text>
<line x1="501.5" y1="465" x2="501.5" y2="616.8" stroke="#000" stroke-width="1" stroke-dasharray="4 2.5"/>
<text x="360.5" y="603" font-size="8.5" text-anchor="start" fill="#2222cc" >ПМ</text>
<g transform="translate(291.9 488.6)">
<rect x="-10.3" y="-17.2" width="20.6" height="17.2" fill="#fff" stroke="#000" stroke-width="1" />
<line x1="-10.3" y1="-15.2" x2="10.3" y2="-15.2" stroke="#000" stroke-width="1"/>
</g>
<g transform="translate(291.9 571.4) rotate(180)">
<rect x="-10.3" y="-16.4" width="20.6" height="16.4" fill="#fff" stroke="#000" stroke-width="1" />
<line x1="-10.3" y1="-14.4" x2="10.3" y2="-14.4" stroke="#000" stroke-width="1"/>
</g>
<g transform="translate(314.7 504) rotate(90)">
<rect x="-10.6" y="-19.3" width="21.2" height="19.3" fill="#fff" stroke="#000" stroke-width="1" />
<line x1="-10.6" y1="-17.3" x2="10.6" y2="-17.3" stroke="#000" stroke-width="1"/>
</g>
<g transform="translate(314.7 529) rotate(90)">
<rect x="-10.6" y="-19.3" width="21.2" height="19.3" fill="#fff" stroke="#000" stroke-width="1" />
<line x1="-10.6" y1="-17.3" x2="10.6" y2="-17.3" stroke="#000" stroke-width="1"/>
</g>
<g transform="translate(314.7 556) rotate(90)">
<rect x="-10.6" y="-19.3" width="21.2" height="19.3" fill="#fff" stroke="#000" stroke-width="1" />
<line x1="-10.6" y1="-17.3" x2="10.6" y2="-17.3" stroke="#000" stroke-width="1"/>
</g>
<rect x="268.5" y="488.6" width="46.2" height="82.8" fill="#fff" stroke="#000" stroke-width="1" />
<rect x="268.9" y="505" width="11.5" height="44.3" fill="#fff" stroke="#000" stroke-width="1" />
<rect x="265.8" y="512.5" width="2.7" height="3" fill="#000" stroke="#000" stroke-width="0.5" />
<rect x="265.8" y="539" width="2.7" height="3.3" fill="#000" stroke="#000" stroke-width="0.5" />
<line x1="353.3" y1="571.4" x2="353.3" y2="585" stroke="#000" stroke-width="1"/>
<rect x="131" y="433.6" width="31.5" height="42.1" fill="#fff" stroke="#000" stroke-width="1" />
<circle cx="146.8" cy="455.5" r="14.8" fill="#fff" stroke="#000" stroke-width="1"/>
<line x1="132" y1="436" x2="161.5" y2="475" stroke="#000" stroke-width="0.8"/>
<line x1="132" y1="475" x2="161.5" y2="436" stroke="#000" stroke-width="0.8"/>
<rect x="131" y="475.7" width="31.5" height="34.3" fill="#fff" stroke="#000" stroke-width="1" />
<text x="142" y="507.5" font-size="8.3" text-anchor="start" fill="#2222cc" transform="rotate(-90 142 507.5)" >СМ/СШ</text>
<rect x="131.6" y="511" width="44.3" height="7.7" fill="#bdbdbd" stroke="#000" stroke-width="1" />
<line x1="138" y1="521" x2="162" y2="521" stroke="#000" stroke-width="1.2"/>
<line x1="138" y1="523.8" x2="162" y2="523.8" stroke="#000" stroke-width="1.2"/>
<rect x="131" y="533.9" width="9.5" height="82.9" fill="#f4f4f4" stroke="#000" stroke-width="1" />
<line x1="131" y1="570" x2="140.5" y2="570" stroke="#000" stroke-width="0.8"/>
<line x1="131" y1="548" x2="140.5" y2="548" stroke="#000" stroke-width="0.8"/>
<line x1="131" y1="590" x2="140.5" y2="590" stroke="#000" stroke-width="0.8"/>
<path d="M141.7 536.4 L165 536.4 Q169.5 536.4 169.5 541 L169.5 552 Q169.5 556.6 165 556.6 L141.7 556.6 Z" fill="#fff" stroke="#000" stroke-width="1" />
<rect x="141.7" y="539" width="4.3" height="15" fill="#fff" stroke="#000" stroke-width="1" />
<path d="M141.7 579.4 L160 579.4 Q168.8 581 168.8 589.5 Q168.8 598 160 599.6 L141.7 599.6 Z" fill="#fff" stroke="#000" stroke-width="1" />
<circle cx="150" cy="589.5" r="0.9" fill="#000" stroke="#000" stroke-width="1"/>
<line x1="140.5" y1="533.9" x2="140.5" y2="616.8" stroke="#000" stroke-width="1"/>
<rect x="227.7" y="434" width="31.6" height="80.9" fill="#fff" stroke="#000" stroke-width="1" />
<rect x="234" y="436.5" width="19" height="25.3" fill="#fff" stroke="#000" stroke-width="1.2" />
<rect x="234" y="485.8" width="19" height="24" fill="#fff" stroke="#000" stroke-width="1.2" />
<line x1="245" y1="448.5" x2="256" y2="448.5" stroke="#000" stroke-width="2"/>
<path d="M244 448.5 L247.5 446.5 L247.5 450.5 Z" fill="#000"/>
<line x1="245" y1="497" x2="256" y2="497" stroke="#000" stroke-width="2"/>
<path d="M244 497 L247.5 495 L247.5 499 Z" fill="#000"/>
<rect x="211.3" y="513.6" width="48" height="5.6" fill="#bdbdbd" stroke="#000" stroke-width="1" />
<rect x="216.3" y="521.2" width="43" height="94.8" fill="#fff" stroke="#000" stroke-width="1.2" />
<rect x="220.9" y="523.8" width="34.6" height="88.5" fill="#fff" stroke="#000" stroke-width="1" />
<line x1="216.3" y1="521.2" x2="220.9" y2="523.8" stroke="#000" stroke-width="1"/>
<line x1="259.3" y1="521.2" x2="255.5" y2="523.8" stroke="#000" stroke-width="1"/>
<line x1="216.3" y1="616" x2="220.9" y2="612.3" stroke="#000" stroke-width="1"/>
<line x1="259.3" y1="616" x2="255.5" y2="612.3" stroke="#000" stroke-width="1"/>
<circle cx="237.5" cy="544.5" r="4.6" fill="#fff" stroke="#000" stroke-width="1"/>
<circle cx="237.5" cy="544.5" r="2.2" fill="#fff" stroke="#000" stroke-width="1"/>
<line x1="237.5" y1="522" x2="237.5" y2="544" stroke="#000" stroke-width="1.6"/>
<line x1="232" y1="524.5" x2="243" y2="524.5" stroke="#000" stroke-width="1.6"/>
<circle cx="246" cy="568" r="1" fill="none" stroke="#000" stroke-width="0.8"/>
<line x1="131" y1="475.7" x2="259.3" y2="475.7" stroke="#000" stroke-width="1"/>
<line x1="129.2" y1="477.5" x2="132.8" y2="473.9" stroke="#000" stroke-width="1"/>
<line x1="160.7" y1="477.5" x2="164.3" y2="473.9" stroke="#000" stroke-width="1"/>
<line x1="225.9" y1="477.5" x2="229.5" y2="473.9" stroke="#000" stroke-width="1"/>
<line x1="257.5" y1="477.5" x2="261.1" y2="473.9" stroke="#000" stroke-width="1"/>
<text transform="translate(146.8 474.3) rotate(0) scale(0.93 1)" font-size="8.4" text-anchor="middle" fill="#333" letter-spacing="0.5">600</text>
<text transform="translate(194.8 474.3) rotate(0) scale(0.93 1)" font-size="8.4" text-anchor="middle" fill="#333" letter-spacing="0.5">1 190</text>
<text transform="translate(242.9 474.3) rotate(0) scale(0.93 1)" font-size="8.4" text-anchor="middle" fill="#333" letter-spacing="0.5">600</text>
<text transform="translate(160 456) rotate(-90) scale(0.93 1)" font-size="8" text-anchor="middle" fill="#333" letter-spacing="0.5">820</text>
<text transform="translate(160 492) rotate(-90) scale(0.93 1)" font-size="8.4" text-anchor="middle" fill="#333" letter-spacing="0.5">600</text>
<text transform="translate(224.5 492) rotate(-90) scale(0.93 1)" font-size="8.4" text-anchor="middle" fill="#333" letter-spacing="0.5">1 500</text>
<line x1="227.7" y1="434" x2="227.7" y2="514.9" stroke="#000" stroke-width="1"/>
<text transform="translate(213 567) rotate(-90) scale(0.93 1)" font-size="8.4" text-anchor="middle" fill="#333" letter-spacing="0.5">1 800</text>
<line x1="216.3" y1="521.2" x2="216.3" y2="616" stroke="#000" stroke-width="1"/>
<text transform="translate(237.5 535) rotate(0) scale(0.93 1)" font-size="8.4" text-anchor="middle" fill="#333" letter-spacing="0.5">800</text>
<line x1="216.3" y1="537" x2="259.3" y2="537" stroke="#000" stroke-width="1"/>
<line x1="214.5" y1="538.8" x2="218.1" y2="535.2" stroke="#000" stroke-width="1"/>
<line x1="257.5" y1="538.8" x2="261.1" y2="535.2" stroke="#000" stroke-width="1"/>
<text transform="translate(150.5 533) rotate(0) scale(0.93 1)" font-size="8.4" text-anchor="middle" fill="#333" letter-spacing="0.5">400</text>
<text transform="translate(180.5 533) rotate(0) scale(0.93 1)" font-size="8.4" text-anchor="middle" fill="#333" letter-spacing="0.5">215</text>
<text transform="translate(127.5 533) rotate(0) scale(0.93 1)" font-size="6.8" text-anchor="middle" fill="#333" letter-spacing="0.5">100</text>
<text transform="translate(166.5 528) rotate(-90) scale(0.93 1)" font-size="6.8" text-anchor="middle" fill="#333" letter-spacing="0.5">200</text>
<text transform="translate(166.5 568) rotate(-90) scale(0.93 1)" font-size="8.4" text-anchor="middle" fill="#333" letter-spacing="0.5">800</text>
<text transform="translate(166.5 605) rotate(-90) scale(0.93 1)" font-size="6.8" text-anchor="middle" fill="#333" letter-spacing="0.5">500</text>
<text transform="translate(134.5 566) rotate(-90) scale(0.93 1)" font-size="6.8" text-anchor="middle" fill="#333" letter-spacing="0.5">200</text>
<line x1="169.5" y1="518.7" x2="169.5" y2="616.8" stroke="#000" stroke-width="1"/>
<line x1="167.9" y1="520.3" x2="171.1" y2="517.1" stroke="#000" stroke-width="1"/>
<line x1="167.9" y1="538" x2="171.1" y2="534.8" stroke="#000" stroke-width="1"/>
<line x1="167.9" y1="558.2" x2="171.1" y2="555" stroke="#000" stroke-width="1"/>
<line x1="167.9" y1="581" x2="171.1" y2="577.8" stroke="#000" stroke-width="1"/>
<line x1="167.9" y1="601.2" x2="171.1" y2="598" stroke="#000" stroke-width="1"/>
<line x1="128" y1="535.5" x2="175" y2="535.5" stroke="#000" stroke-width="1"/>
<rect x="222.4" y="635" width="43.6" height="15.8" fill="#fff" stroke="#000" stroke-width="1" />
<line x1="240.4" y1="635" x2="240.4" y2="650.8" stroke="#000" stroke-width="1"/>
<line x1="256.6" y1="635" x2="256.6" y2="650.8" stroke="#000" stroke-width="1"/>
<rect x="266" y="638" width="1.3" height="4" fill="#fff" stroke="#000" stroke-width="0.7" />
<rect x="96.3" y="282.4" width="16.2" height="42.4" fill="#fff" stroke="#000" stroke-width="1" />
<line x1="96.3" y1="291" x2="112.5" y2="291" stroke="#000" stroke-width="0.8"/>
<rect x="94.3" y="288" width="2" height="5" fill="#000" stroke="#000" stroke-width="0.5" />
<rect x="94.3" y="314" width="2" height="5" fill="#000" stroke="#000" stroke-width="0.5" />
<rect x="161.5" y="207.5" width="44.2" height="12.7" fill="#fff" stroke="#000" stroke-width="1" />
<rect x="612" y="201" width="78.2" height="33.5" fill="#fff" stroke="#000" stroke-width="1" />
<line x1="612" y1="201" x2="690.2" y2="234.5" stroke="#000" stroke-width="0.8"/>
<line x1="612" y1="234.5" x2="690.2" y2="201" stroke="#000" stroke-width="0.8"/>
<rect x="617.5" y="310" width="32.3" height="19.8" fill="#fff" stroke="#000" stroke-width="1" />
<rect x="649.8" y="310" width="33.7" height="19.8" fill="#fff" stroke="#000" stroke-width="1" />
<line x1="617.5" y1="318" x2="617.5" y2="323" stroke="#000" stroke-width="2.4"/>
<line x1="649.8" y1="318" x2="649.8" y2="323" stroke="#000" stroke-width="2.4"/>
<line x1="683.5" y1="318" x2="683.5" y2="323" stroke="#000" stroke-width="2.4"/>
<line x1="614" y1="310" x2="687" y2="310" stroke="#000" stroke-width="1"/>
<line x1="615.7" y1="311.8" x2="619.3" y2="308.2" stroke="#000" stroke-width="1"/>
<line x1="648" y1="311.8" x2="651.6" y2="308.2" stroke="#000" stroke-width="1"/>
<line x1="681.7" y1="311.8" x2="685.3" y2="308.2" stroke="#000" stroke-width="1"/>
<text transform="translate(632 307.5) rotate(0) scale(0.93 1)" font-size="8.4" text-anchor="middle" fill="#333" letter-spacing="0.5">600</text>
<text transform="translate(665 307.5) rotate(0) scale(0.93 1)" font-size="8.4" text-anchor="middle" fill="#333" letter-spacing="0.5">600</text>
<text transform="translate(679.5 320.5) rotate(-90) scale(0.93 1)" font-size="8" text-anchor="middle" fill="#333" letter-spacing="0.5">400</text>
<line x1="683.5" y1="201" x2="683.5" y2="331.6" stroke="#000" stroke-width="1"/>
<line x1="681.7" y1="236.3" x2="685.3" y2="232.7" stroke="#000" stroke-width="1"/>
<line x1="681.7" y1="311.8" x2="685.3" y2="308.2" stroke="#000" stroke-width="1"/>
<text transform="translate(681 271) rotate(-90) scale(0.93 1)" font-size="8.6" text-anchor="middle" fill="#333" letter-spacing="0.5">1 400</text>
<text transform="translate(651 231.5) rotate(0) scale(0.93 1)" font-size="8.4" text-anchor="middle" fill="#333" letter-spacing="0.5">1 480</text>
<text transform="translate(681 217.5) rotate(-90) scale(0.93 1)" font-size="8" text-anchor="middle" fill="#333" letter-spacing="0.5">600</text>
<line x1="610.2" y1="236.3" x2="613.8" y2="232.7" stroke="#000" stroke-width="1"/>
<line x1="688.4" y1="236.3" x2="692" y2="232.7" stroke="#000" stroke-width="1"/>
<path d="M666.3 423.4 L666.3 365 Q670 352 677 346.4 Q684 352 687.9 365 L687.9 423.4 Z" fill="#fff" stroke="#000" stroke-width="1" stroke-dasharray="4 2"/>
<line x1="658.6" y1="337.6" x2="658.6" y2="464" stroke="#000" stroke-width="1"/>
<text transform="translate(656 381.5) rotate(-90) scale(0.93 1)" font-size="8.4" text-anchor="middle" fill="#333" letter-spacing="0.5">1 770</text>
<rect x="658.7" y="434.4" width="31.6" height="137.5" fill="#fff" stroke="#000" stroke-width="1" />
<line x1="658.7" y1="434.4" x2="690.3" y2="541" stroke="#000" stroke-width="0.8"/>
<line x1="690.3" y1="434.4" x2="658.7" y2="541" stroke="#000" stroke-width="0.8"/>
<rect x="658.7" y="464.6" width="31.6" height="32.6" fill="#fff" stroke="#000" stroke-width="1" />
<text x="679.5" y="489" font-size="8.3" text-anchor="start" fill="#2222cc" transform="rotate(-90 679.5 489)" >СМ</text>
<line x1="658.7" y1="538.7" x2="690.3" y2="538.7" stroke="#000" stroke-width="1"/>
<line x1="658.7" y1="441.9" x2="690.3" y2="441.9" stroke="#000" stroke-width="1"/>
<line x1="658.7" y1="458.8" x2="690.3" y2="458.8" stroke="#000" stroke-width="1"/>
<line x1="519.5" y1="442.1" x2="598.6" y2="442.1" stroke="#000" stroke-width="1"/>
<line x1="612.3" y1="442.1" x2="658" y2="442.1" stroke="#000" stroke-width="1"/>
<line x1="519.5" y1="458.3" x2="598.6" y2="458.3" stroke="#000" stroke-width="1"/>
<line x1="612.3" y1="458.3" x2="658" y2="458.3" stroke="#000" stroke-width="1"/>
<line x1="519.5" y1="474.4" x2="598.6" y2="474.4" stroke="#000" stroke-width="1"/>
<line x1="612.3" y1="474.4" x2="658" y2="474.4" stroke="#000" stroke-width="1"/>
<line x1="519.5" y1="490.5" x2="598.6" y2="490.5" stroke="#000" stroke-width="1"/>
<line x1="612.3" y1="490.5" x2="658" y2="490.5" stroke="#000" stroke-width="1"/>
<line x1="519.5" y1="506.6" x2="598.6" y2="506.6" stroke="#000" stroke-width="1"/>
<line x1="612.3" y1="506.6" x2="658" y2="506.6" stroke="#000" stroke-width="1"/>
<line x1="519.5" y1="522.6" x2="598.6" y2="522.6" stroke="#000" stroke-width="1"/>
<line x1="612.3" y1="522.6" x2="658" y2="522.6" stroke="#000" stroke-width="1"/>
<line x1="519.5" y1="538.7" x2="598.6" y2="538.7" stroke="#000" stroke-width="1"/>
<line x1="612.3" y1="538.7" x2="658" y2="538.7" stroke="#000" stroke-width="1"/>
<line x1="597.6" y1="539" x2="519.5" y2="579.4" stroke="#000" stroke-width="1"/>
<line x1="597.6" y1="539" x2="558.2" y2="616.8" stroke="#000" stroke-width="1"/>
<line x1="597.6" y1="539" x2="597.6" y2="616.8" stroke="#000" stroke-width="1"/>
<line x1="612.5" y1="539" x2="690.5" y2="584.5" stroke="#000" stroke-width="1"/>
<line x1="612.5" y1="539" x2="654.3" y2="616.8" stroke="#000" stroke-width="1"/>
<line x1="612.5" y1="539" x2="690.5" y2="570.6" stroke="#000" stroke-width="1"/>
<line x1="612.5" y1="570.6" x2="690.5" y2="539" stroke="#000" stroke-width="1"/>
<line x1="612.5" y1="570.6" x2="690.5" y2="570.6" stroke="#000" stroke-width="1"/>
<path d="M555.6 577 L652.5 577 L652.5 464" fill="none" stroke="#000" stroke-width="1"  stroke-dasharray="4 2.5"/>
<path d="M652.2 458.6 L656.2 464.8 L648.2 464.8 Z" fill="#000"/>
<line x1="531.1" y1="442.1" x2="531.1" y2="620" stroke="#000" stroke-width="1"/>
<line x1="555.6" y1="442.1" x2="555.6" y2="616.8" stroke="#000" stroke-width="1"/>
<line x1="553.8" y1="443.9" x2="557.4" y2="440.3" stroke="#000" stroke-width="1"/>
<line x1="553.8" y1="460.1" x2="557.4" y2="456.5" stroke="#000" stroke-width="1"/>
<line x1="553.8" y1="476.2" x2="557.4" y2="472.6" stroke="#000" stroke-width="1"/>
<line x1="553.8" y1="492.3" x2="557.4" y2="488.7" stroke="#000" stroke-width="1"/>
<line x1="553.8" y1="508.4" x2="557.4" y2="504.8" stroke="#000" stroke-width="1"/>
<line x1="553.8" y1="524.4" x2="557.4" y2="520.8" stroke="#000" stroke-width="1"/>
<line x1="553.8" y1="540.5" x2="557.4" y2="536.9" stroke="#000" stroke-width="1"/>
<line x1="528.9" y1="444.3" x2="533.3" y2="439.9" stroke="#000" stroke-width="1"/>
<line x1="528.9" y1="622.2" x2="533.3" y2="617.8" stroke="#000" stroke-width="1"/>
<rect x="173" y="425.2" width="39.7" height="8.6" fill="url(#tb)" stroke="none" stroke-width="0" />
<rect x="276" y="425.2" width="42.6" height="8.6" fill="url(#tk)" stroke="none" stroke-width="0" />
<rect x="171.6" y="386.2" width="3.1" height="40.3" fill="#fff" stroke="#000" stroke-width="0.9" />
<line x1="172" y1="386.2" x2="172" y2="432" stroke="#000" stroke-width="1.8"/>
<line x1="171.6" y1="391.5" x2="174.7" y2="391.5" stroke="#000" stroke-width="0.8"/>
<line x1="171.6" y1="421.8" x2="174.7" y2="421.8" stroke="#000" stroke-width="0.8"/>
<path d="M174.7 386.2 A38.1 38.1 0 0 1 212.8 424.3" fill="none" stroke="#000" stroke-width="1" />
<rect x="318.6" y="379.2" width="2.2" height="45.1" fill="#fff" stroke="#000" stroke-width="0.9" />
<rect x="318.6" y="383.6" width="2.2" height="36.4" fill="#000" stroke="#000" stroke-width="0.9" />
<path d="M318.9 379.8 A44.5 44.5 0 0 0 274.4 424.3" fill="none" stroke="#000" stroke-width="1" />
<rect x="319" y="426.5" width="2.5" height="4" fill="#fff" stroke="#000" stroke-width="1" />
<rect x="568.6" y="239.8" width="35.9" height="2.6" fill="#fff" stroke="#000" stroke-width="0.8" />
<rect x="604.5" y="238.5" width="6.5" height="3.9" fill="#fff" stroke="#000" stroke-width="0.8" />
<path d="M568.6 241 A36.4 36.4 0 0 0 605 277.4" fill="none" stroke="#000" stroke-width="1" />
<rect x="610.2" y="346" width="44.3" height="2.6" fill="#fff" stroke="#000" stroke-width="0.9" />
<path d="M655 347.4 A44 44 0 0 1 611 391.4" fill="none" stroke="#000" stroke-width="1" />
<line x1="708.8" y1="236.5" x2="708.8" y2="261.2" stroke="#000" stroke-width="1.4"/>
<path d="M708.8 261.2 A48.4 48.4 0 0 1 757.2 309.6" fill="none" stroke="#000" stroke-width="1" />
<line x1="708.8" y1="309.6" x2="757.2" y2="309.6" stroke="#000" stroke-width="1.2"/>
<rect x="340.2" y="632.8" width="2.6" height="44.4" fill="#fff" stroke="#000" stroke-width="0.9" />
<path d="M341.5 677.2 A44.4 44.4 0 0 1 297.1 632.8" fill="none" stroke="#000" stroke-width="1" />
<line x1="322.1" y1="94.2" x2="322.1" y2="424" stroke="#000" stroke-width="1" stroke-dasharray="4 2.5"/>
<line x1="339.8" y1="94.2" x2="339.8" y2="424" stroke="#000" stroke-width="1" stroke-dasharray="4 2.5"/>
<line x1="501.5" y1="94.2" x2="501.5" y2="424" stroke="#000" stroke-width="1" stroke-dasharray="4 2.5"/>
<line x1="520" y1="94.2" x2="520" y2="424" stroke="#000" stroke-width="1" stroke-dasharray="4 2.5"/>
<line x1="257" y1="177.4" x2="583" y2="177.4" stroke="#000" stroke-width="1" stroke-dasharray="5 2.5"/>
<line x1="236" y1="207.4" x2="690" y2="207.4" stroke="#000" stroke-width="1" stroke-dasharray="5 2.5"/>
<line x1="131" y1="433.8" x2="342" y2="433.8" stroke="#000" stroke-width="1" stroke-dasharray="4 2.5"/>
<line x1="520" y1="434.4" x2="658.7" y2="434.4" stroke="#000" stroke-width="1" stroke-dasharray="4 2.5"/>
<line x1="519.5" y1="465.2" x2="652" y2="465.2" stroke="#000" stroke-width="1" stroke-dasharray="4 2.5"/>
<line x1="377" y1="106.5" x2="460" y2="106.5" stroke="#000" stroke-width="1"/>
<line x1="377.3" y1="108.7" x2="381.7" y2="104.3" stroke="#000" stroke-width="1"/>
<line x1="455.3" y1="108.7" x2="459.7" y2="104.3" stroke="#000" stroke-width="1"/>
<text transform="translate(418.5 104.2) rotate(0) scale(0.93 1)" font-size="8.6" text-anchor="middle" fill="#333" letter-spacing="0.5">1 450</text>
<line x1="465.6" y1="104" x2="465.6" y2="130.5" stroke="#000" stroke-width="1"/>
<line x1="463.4" y1="108.7" x2="467.8" y2="104.3" stroke="#000" stroke-width="1"/>
<line x1="463.4" y1="130.6" x2="467.8" y2="126.2" stroke="#000" stroke-width="1"/>
<line x1="457.5" y1="128.4" x2="468" y2="128.4" stroke="#000" stroke-width="1"/>
<line x1="457.5" y1="106.5" x2="468" y2="106.5" stroke="#000" stroke-width="1"/>
<text transform="translate(463.5 117.5) rotate(-90) scale(0.93 1)" font-size="8.4" text-anchor="middle" fill="#333" letter-spacing="0.5">400</text>
<text transform="translate(418.8 126.2) rotate(0) scale(0.93 1)" font-size="8.6" text-anchor="middle" fill="#333" letter-spacing="0.5">3 880</text>
<line x1="313.2" y1="130.6" x2="317.6" y2="126.2" stroke="#000" stroke-width="1"/>
<line x1="522.4" y1="130.6" x2="526.8" y2="126.2" stroke="#000" stroke-width="1"/>
<line x1="313.2" y1="228.2" x2="317.6" y2="223.8" stroke="#000" stroke-width="1"/>
<line x1="522.4" y1="228.2" x2="526.8" y2="223.8" stroke="#000" stroke-width="1"/>
<text transform="translate(312.8 177) rotate(-90) scale(0.93 1)" font-size="8.4" text-anchor="middle" fill="#333" letter-spacing="0.5">1900</text>
<line x1="315.4" y1="94.2" x2="315.4" y2="128.4" stroke="#000" stroke-width="1"/>
<line x1="313.6" y1="98.3" x2="317.2" y2="94.7" stroke="#000" stroke-width="1"/>
<text transform="translate(313 111.5) rotate(-90) scale(0.93 1)" font-size="8" text-anchor="middle" fill="#333" letter-spacing="0.5">900</text>
<line x1="313" y1="226" x2="527" y2="226" stroke="#000" stroke-width="1"/>
<line x1="362.2" y1="228.2" x2="366.6" y2="223.8" stroke="#000" stroke-width="1"/>
<line x1="473.5" y1="228.2" x2="477.9" y2="223.8" stroke="#000" stroke-width="1"/>
<text transform="translate(340 224) rotate(0) scale(0.93 1)" font-size="8.6" text-anchor="middle" fill="#333" letter-spacing="0.5">980</text>
<text transform="translate(419.5 224) rotate(0) scale(0.93 1)" font-size="8.6" text-anchor="middle" fill="#333" letter-spacing="0.5">2 080</text>
<text transform="translate(499.5 224) rotate(0) scale(0.93 1)" font-size="8.6" text-anchor="middle" fill="#333" letter-spacing="0.5">900</text>
<text transform="translate(385.9 191) rotate(0) scale(0.93 1)" font-size="8.6" text-anchor="middle" fill="#333" letter-spacing="0.5">450</text>
<text transform="translate(424.3 288.6) rotate(0) scale(0.93 1)" font-size="8.6" text-anchor="middle" fill="#333" letter-spacing="0.5">450</text>
<line x1="163.3" y1="207.2" x2="163.3" y2="433" stroke="#000" stroke-width="1"/>
<line x1="131" y1="335.3" x2="296" y2="335.3" stroke="#000" stroke-width="1"/>
<line x1="161.1" y1="209.4" x2="165.5" y2="205" stroke="#000" stroke-width="1"/>
<line x1="161.1" y1="278.5" x2="165.5" y2="274.1" stroke="#000" stroke-width="1"/>
<line x1="161.1" y1="337.5" x2="165.5" y2="333.1" stroke="#000" stroke-width="1"/>
<line x1="161.1" y1="426.5" x2="165.5" y2="422.1" stroke="#000" stroke-width="1"/>
<line x1="128.8" y1="337.5" x2="133.2" y2="333.1" stroke="#000" stroke-width="1"/>
<line x1="290.5" y1="337.5" x2="294.9" y2="333.1" stroke="#000" stroke-width="1"/>
<text transform="translate(160.6 241.6) rotate(-90) scale(0.93 1)" font-size="8.6" text-anchor="middle" fill="#333" letter-spacing="0.5">1 287</text>
<text transform="translate(160.8 306.4) rotate(-90) scale(0.93 1)" font-size="8.4" text-anchor="middle" fill="#333" letter-spacing="0.5">1 100</text>
<text transform="translate(160.8 380.5) rotate(-90) scale(0.93 1)" font-size="8.6" text-anchor="middle" fill="#333" letter-spacing="0.5">1 650</text>
<text transform="translate(146.9 333.2) rotate(0) scale(0.93 1)" font-size="8.6" text-anchor="middle" fill="#333" letter-spacing="0.5">600</text>
<text transform="translate(227.5 333.2) rotate(0) scale(0.93 1)" font-size="8.6" text-anchor="middle" fill="#333" letter-spacing="0.5">2 400</text>
<line x1="314.7" y1="433.5" x2="314.7" y2="617" stroke="#000" stroke-width="1"/>
<line x1="312.9" y1="435.3" x2="316.5" y2="431.7" stroke="#000" stroke-width="1"/>
<line x1="312.9" y1="472.1" x2="316.5" y2="468.5" stroke="#000" stroke-width="1"/>
<line x1="312.9" y1="490.4" x2="316.5" y2="486.8" stroke="#000" stroke-width="1"/>
<line x1="312.9" y1="573.2" x2="316.5" y2="569.6" stroke="#000" stroke-width="1"/>
<line x1="312.9" y1="618.6" x2="316.5" y2="615" stroke="#000" stroke-width="1"/>
<text transform="translate(312.6 449.1) rotate(-90) scale(0.93 1)" font-size="8.4" text-anchor="middle" fill="#333" letter-spacing="0.5">1 025</text>
<text transform="translate(312.6 529.6) rotate(-90) scale(0.93 1)" font-size="8.4" text-anchor="middle" fill="#333" letter-spacing="0.5">1 550</text>
<text transform="translate(312.6 594) rotate(-90) scale(0.93 1)" font-size="8.4" text-anchor="middle" fill="#333" letter-spacing="0.5">845</text>
<text transform="translate(307 468.6) rotate(0) scale(0.93 1)" font-size="8.4" text-anchor="middle" fill="#333" letter-spacing="0.5">1 400</text>
<line x1="266.6" y1="571.4" x2="354.2" y2="571.4" stroke="#000" stroke-width="1"/>
<line x1="266.7" y1="573.2" x2="270.3" y2="569.6" stroke="#000" stroke-width="1"/>
<line x1="312.9" y1="573.2" x2="316.5" y2="569.6" stroke="#000" stroke-width="1"/>
<line x1="351.5" y1="573.2" x2="355.1" y2="569.6" stroke="#000" stroke-width="1"/>
<text transform="translate(291.6 570) rotate(0) scale(0.93 1)" font-size="8.4" text-anchor="middle" fill="#333" letter-spacing="0.5">870</text>
<text transform="translate(333 570) rotate(0) scale(0.93 1)" font-size="8.4" text-anchor="middle" fill="#333" letter-spacing="0.5">098</text>
<text transform="translate(554 450.5) rotate(-90) scale(0.93 1)" font-size="6.6" text-anchor="middle" fill="#333" letter-spacing="0.5">300</text>
<text transform="translate(554 466.1) rotate(-90) scale(0.93 1)" font-size="6.6" text-anchor="middle" fill="#333" letter-spacing="0.5">300</text>
<text transform="translate(554 482) rotate(-90) scale(0.93 1)" font-size="6.6" text-anchor="middle" fill="#333" letter-spacing="0.5">300</text>
<text transform="translate(554 498) rotate(-90) scale(0.93 1)" font-size="6.6" text-anchor="middle" fill="#333" letter-spacing="0.5">300</text>
<text transform="translate(554 514.2) rotate(-90) scale(0.93 1)" font-size="6.6" text-anchor="middle" fill="#333" letter-spacing="0.5">300</text>
<text transform="translate(554 530.1) rotate(-90) scale(0.93 1)" font-size="6.6" text-anchor="middle" fill="#333" letter-spacing="0.5">300</text>
<text transform="translate(529.5 530) rotate(-90) scale(0.93 1)" font-size="6.8" text-anchor="middle" fill="#333" letter-spacing="0.5">1 320</text>
<text transform="translate(553.5 578) rotate(-90) scale(0.93 1)" font-size="8" text-anchor="middle" fill="#333" letter-spacing="0.5">1 450</text>
<text transform="translate(558.2 440.3) rotate(0) scale(0.93 1)" font-size="7" text-anchor="middle" fill="#333" letter-spacing="0.5">1 450</text>
<text transform="translate(651.7 440.3) rotate(0) scale(0.93 1)" font-size="6.6" text-anchor="middle" fill="#333" letter-spacing="0.5">1 454</text>
<text transform="translate(604.2 440.3) rotate(0) scale(0.93 1)" font-size="6" text-anchor="middle" fill="#333" letter-spacing="0.5">216</text>
<text transform="translate(635.8 537) rotate(0) scale(0.93 1)" font-size="8.4" text-anchor="middle" fill="#333" letter-spacing="0.5">854</text>
<text transform="translate(674.5 537) rotate(0) scale(0.93 1)" font-size="8.4" text-anchor="middle" fill="#333" letter-spacing="0.5">600</text>
<text transform="translate(655.6 485.9) rotate(-90) scale(0.93 1)" font-size="8" text-anchor="middle" fill="#333" letter-spacing="0.5">1 950</text>
<text transform="translate(655.6 554.2) rotate(-90) scale(0.93 1)" font-size="8" text-anchor="middle" fill="#333" letter-spacing="0.5">560</text>
<line x1="652.5" y1="539" x2="652.5" y2="577" stroke="#000" stroke-width="1"/>
<line x1="795.8" y1="181" x2="795.8" y2="466" stroke="#000" stroke-width="1"/>
<line x1="793.6" y1="186.6" x2="798" y2="182.2" stroke="#000" stroke-width="1"/>
<line x1="792.8" y1="184.4" x2="799.3" y2="184.4" stroke="#000" stroke-width="1"/>
<line x1="793.6" y1="202.6" x2="798" y2="198.2" stroke="#000" stroke-width="1"/>
<line x1="792.8" y1="200.4" x2="799.3" y2="200.4" stroke="#000" stroke-width="1"/>
<line x1="793.6" y1="218.7" x2="798" y2="214.3" stroke="#000" stroke-width="1"/>
<line x1="792.8" y1="216.5" x2="799.3" y2="216.5" stroke="#000" stroke-width="1"/>
<line x1="793.6" y1="432.6" x2="798" y2="428.2" stroke="#000" stroke-width="1"/>
<line x1="792.8" y1="430.4" x2="799.3" y2="430.4" stroke="#000" stroke-width="1"/>
<line x1="793.6" y1="448.7" x2="798" y2="444.3" stroke="#000" stroke-width="1"/>
<line x1="792.8" y1="446.5" x2="799.3" y2="446.5" stroke="#000" stroke-width="1"/>
<line x1="793.6" y1="465.5" x2="798" y2="461.1" stroke="#000" stroke-width="1"/>
<line x1="792.8" y1="463.3" x2="799.3" y2="463.3" stroke="#000" stroke-width="1"/>
<text transform="translate(794.3 175.4) rotate(-90) scale(0.93 1)" font-size="8.4" text-anchor="middle" fill="#333" letter-spacing="0.5">300</text>
<text transform="translate(794.3 223.8) rotate(-90) scale(0.93 1)" font-size="8.4" text-anchor="middle" fill="#333" letter-spacing="0.5">300</text>
<text transform="translate(794.3 323.9) rotate(-90) scale(0.93 1)" font-size="8.4" text-anchor="middle" fill="#333" letter-spacing="0.5">2600</text>
<text transform="translate(794.3 422.2) rotate(-90) scale(0.93 1)" font-size="8.4" text-anchor="middle" fill="#333" letter-spacing="0.5">300</text>
<text transform="translate(794.3 470.8) rotate(-90) scale(0.93 1)" font-size="8.4" text-anchor="middle" fill="#333" letter-spacing="0.5">300</text>
<text transform="translate(747.2 428.6) rotate(0) scale(0.93 1)" font-size="8.4" text-anchor="middle" fill="#333" letter-spacing="0.5">1 450</text>
<text x="403.7" y="61.3" font-size="9.45" text-anchor="start" fill="#111" >Консоль 1450ммх 400мм</text>
<path d="M402.4 58 L392.3 58 L392.3 111" fill="none" stroke="#000" stroke-width="1" />
<path d="M392.3 111 L390.5 105.5 L394.1 105.5 Z" fill="#000"/>
<text x="173.5" y="120" font-size="9.45" text-anchor="start" fill="#111" >Внешний Блок</text>
<text x="173.5" y="132.6" font-size="9.45" text-anchor="start" fill="#111" >800 мм х 330 мм</text>
<line x1="105.2" y1="137.1" x2="248" y2="137.1" stroke="#000" stroke-width="1"/>
<path d="M105.2 137.1 L105.2 282.4" fill="none" stroke="#000" stroke-width="1" />
<path d="M105.2 282.4 L103.4 276.9 L107 276.9 Z" fill="#000"/>
<text x="171.4" y="158.7" font-size="9.45" text-anchor="start" fill="#111" >Кондиционер</text>
<text x="171.4" y="171.3" font-size="9.45" text-anchor="start" fill="#111" >230 мм х 815 мм</text>
<line x1="161.6" y1="175.8" x2="243" y2="175.8" stroke="#000" stroke-width="1"/>
<path d="M161.6 175.8 L161.6 206.5" fill="none" stroke="#000" stroke-width="1" />
<path d="M161.6 206.5 L159.8 201 L163.4 201 Z" fill="#000"/>
<text x="216.5" y="223.7" font-size="9.45" text-anchor="start" fill="#111" >Стол обеденный</text>
<text x="216.5" y="236.3" font-size="9.45" text-anchor="start" fill="#111" >на 8 персон</text>
<text x="216.5" y="248.9" font-size="9.45" text-anchor="start" fill="#111" >1100мм х 2400мм</text>
<path d="M215.2 232.7 L205.6 232.7 L205.6 298.3" fill="none" stroke="#000" stroke-width="1" />
<path d="M205.6 298.3 L203.8 292.8 L207.4 292.8 Z" fill="#000"/>
<text x="383" y="159.3" font-size="9.45" text-anchor="start" fill="#111" >Диван 3880мм х 900мм</text>
<path d="M382.2 155.4 L372.8 155.4 L372.8 169.3" fill="none" stroke="#000" stroke-width="1" />
<path d="M372.8 169.3 L371 163.8 L374.6 163.8 Z" fill="#000"/>
<text x="391.6" y="215" font-size="9.45" text-anchor="start" fill="#111" >Столик450мм х450 мм</text>
<path d="M391 211.7 L380.9 211.7 L380.9 196.5" fill="none" stroke="#000" stroke-width="1" />
<path d="M380.9 196.5 L382.7 202 L379.1 202 Z" fill="#000"/>
<text x="478.9" y="321.8" font-size="9.45" text-anchor="start" fill="#111" >Кресло 800мм х 900мм</text>
<path d="M478 317.6 L466.8 317.6 L466.8 300.2" fill="none" stroke="#000" stroke-width="1" />
<path d="M466.8 300.2 L468.6 305.7 L465 305.7 Z" fill="#000"/>
<text x="428.4" y="340.1" font-size="9.45" text-anchor="start" fill="#111" >Столик 450мм х450мм</text>
<path d="M427.5 336.5 L417.2 336.5 L417.2 297.7" fill="none" stroke="#000" stroke-width="1" />
<path d="M417.2 297.7 L419 303.2 L415.4 303.2 Z" fill="#000"/>
<text x="347.4" y="357.2" font-size="9.45" text-anchor="start" fill="#111" >Стеллаж</text>
<text x="347.4" y="369.2" font-size="9.45" text-anchor="start" fill="#111" >450мм х400мм</text>
<path d="M346 359.2 L337.3 359.2 L337.3 417" fill="none" stroke="#000" stroke-width="1" />
<path d="M337.3 417 L335.5 411.5 L339.1 411.5 Z" fill="#000"/>
<text x="411.2" y="355.7" font-size="9.45" text-anchor="start" fill="#111" >ТВ тумба 1690мм х450мм</text>
<path d="M410 352.1 L400.5 352.1 L400.5 406.7" fill="none" stroke="#000" stroke-width="1" />
<path d="M400.5 406.7 L398.7 401.2 L402.3 401.2 Z" fill="#000"/>
<text x="443.3" y="379.2" font-size="9.45" text-anchor="start" fill="#111" >ТВ</text>
<path d="M442 375.4 L432.7 375.4 L432.7 418" fill="none" stroke="#000" stroke-width="1" />
<path d="M432.7 418 L430.9 412.5 L434.5 412.5 Z" fill="#000"/>
<text x="488.3" y="369.9" font-size="9.45" text-anchor="start" fill="#111" >Стеллаж</text>
<text x="488.3" y="382.5" font-size="9.45" text-anchor="start" fill="#111" >280мм х400мм</text>
<path d="M487 372.3 L477.7 372.3 L477.7 416.8" fill="none" stroke="#000" stroke-width="1" />
<path d="M477.7 416.8 L475.9 411.3 L479.5 411.3 Z" fill="#000"/>
<text x="537.6" y="414.9" font-size="9.45" text-anchor="start" fill="#111" >Стеллаж</text>
<text x="537.6" y="427.5" font-size="9.45" text-anchor="start" fill="#111" >450мм х400мм</text>
<path d="M536 417.4 L513.6 417.4" fill="none" stroke="#000" stroke-width="1" />
<path d="M513.6 417.4 L519.1 415.6 L519.1 419.2 Z" fill="#000"/>
<text x="243.8" y="393" font-size="9.45" text-anchor="start" fill="#111" >Мойка двойная</text>
<text x="243.8" y="405.9" font-size="9.45" text-anchor="start" fill="#111" >1500 мм х 600мм</text>
<path d="M242 395.7 L232.1 395.7 L232.1 451.3" fill="none" stroke="#000" stroke-width="1" />
<path d="M232.1 451.3 L230.3 445.8 L233.9 445.8 Z" fill="#000"/>
<text x="151.5" y="417" font-size="9.45" text-anchor="start" fill="#111" >Бойлер</text>
<path d="M150 412.6 L140.6 412.6 L140.6 456.4" fill="none" stroke="#000" stroke-width="1" />
<path d="M140.6 456.4 L138.8 450.9 L142.4 450.9 Z" fill="#000"/>
<text x="108" y="495.6" font-size="9.45" text-anchor="end" fill="#111" >Стир.машина</text>
<text x="108" y="509.1" font-size="9.45" text-anchor="end" fill="#111" >Сш.машина</text>
<path d="M109 497.3 L137.5 497.3" fill="none" stroke="#000" stroke-width="1" />
<path d="M137.5 497.3 L132 499.1 L132 495.5 Z" fill="#000"/>
<text x="102.6" y="530.8" font-size="9.45" text-anchor="end" fill="#111" >Полотенцесуш</text>
<path d="M105.5 527.8 L130 527.8 L162.4 522.4" fill="none" stroke="#000" stroke-width="1" />
<text x="107" y="544.1" font-size="9.45" text-anchor="end" fill="#111" >Унитаз</text>
<text x="107" y="557.6" font-size="9.45" text-anchor="end" fill="#111" >с инсталляцией</text>
<path d="M109 546.5 L140.5 546.5" fill="none" stroke="#000" stroke-width="1" />
<path d="M140.5 546.5 L135 548.3 L135 544.7 Z" fill="#000"/>
<text x="107" y="593.6" font-size="9.45" text-anchor="end" fill="#111" >Биде</text>
<path d="M110 589.7 L140.5 589.7" fill="none" stroke="#000" stroke-width="1" />
<path d="M140.5 589.7 L135 591.5 L135 587.9 Z" fill="#000"/>
<text x="216.3" y="593.4" font-size="9.45" text-anchor="start" fill="#111" >Ванна</text>
<text x="173.3" y="605.3" font-size="9.45" text-anchor="start" fill="#111" >800мм х1800мм</text>
<path d="M245.4 595.8 L253.8 595.8 L253.8 566.7" fill="none" stroke="#000" stroke-width="1" />
<path d="M253.8 566.7 L255.6 572.2 L252 572.2 Z" fill="#000"/>
<text x="291.5" y="513" font-size="9.45" text-anchor="start" fill="#111" >Кондиционер</text>
<path d="M290 509.4 L270.4 509.4" fill="none" stroke="#000" stroke-width="1" />
<path d="M270.4 509.4 L275.9 507.6 L275.9 511.2 Z" fill="#000"/>
<line x1="274.3" y1="505" x2="274.3" y2="498" stroke="#000" stroke-width="1.6"/>
<path d="M274.3 495 L275.9 499 L272.7 499 Z" fill="#000"/>
<text x="296" y="556.5" font-size="9.45" text-anchor="start" fill="#111" >ТВ</text>
<path d="M294 552.6 L274.3 552.6" fill="none" stroke="#000" stroke-width="1" />
<path d="M274.3 552.6 L279.8 550.8 L279.8 554.4 Z" fill="#000"/>
<text x="294.7" y="620" font-size="9.45" text-anchor="start" fill="#111" >Стул</text>
<text x="294.7" y="632.4" font-size="9.45" text-anchor="start" fill="#111" >инглольер</text>
<text x="294.7" y="644.8" font-size="9.45" text-anchor="start" fill="#111" >400мм х400мм</text>
<path d="M294 631.2 L283.4 631.2 L283.4 577" fill="none" stroke="#000" stroke-width="1" />
<path d="M283.4 577 L285.2 582.5 L281.6 582.5 Z" fill="#000"/>
<text x="155.2" y="666.4" font-size="9.45" text-anchor="start" fill="#111" >Внешний Блок</text>
<text x="155.2" y="679.6" font-size="9.45" text-anchor="start" fill="#111" >800 мм х 330 мм</text>
<line x1="148.5" y1="683" x2="235.6" y2="683" stroke="#000" stroke-width="1"/>
<path d="M235.6 683 L235.6 641.2" fill="none" stroke="#000" stroke-width="1" />
<path d="M235.6 641.2 L237.4 646.7 L233.8 646.7 Z" fill="#000"/>
<text x="284.2" y="673.5" font-size="9.45" text-anchor="start" fill="#111" >Стол обеденный</text>
<text x="284.2" y="685.9" font-size="9.45" text-anchor="start" fill="#111" >Ингаторп</text>
<text x="284.2" y="698.3" font-size="9.45" text-anchor="start" fill="#111" >на 5 персон</text>
<text x="284.2" y="710.7" font-size="9.45" text-anchor="start" fill="#111" >1550мм х870мм</text>
<path d="M283 688.6 L273.3 688.6 L273.3 560.4" fill="none" stroke="#000" stroke-width="1" />
<path d="M273.3 560.4 L275.1 565.9 L271.5 565.9 Z" fill="#000"/>
<text x="366.3" y="651.3" font-size="9.45" text-anchor="start" fill="#111" >Посудомоечная</text>
<text x="366.3" y="663.6" font-size="9.45" text-anchor="start" fill="#111" >машина</text>
<text x="366.3" y="675.9" font-size="9.45" text-anchor="start" fill="#111" >600мм х 600мм</text>
<path d="M365 660 L355.4 660 L355.4 611.5" fill="none" stroke="#000" stroke-width="1" />
<path d="M355.4 611.5 L357.2 617 L353.6 617 Z" fill="#000"/>
<text x="449.5" y="693.9" font-size="9.45" text-anchor="start" fill="#111" >Мойка 1100мм х600 мм</text>
<path d="M448 689.8 L438.8 689.8 L438.8 611.5" fill="none" stroke="#000" stroke-width="1" />
<path d="M438.8 611.5 L440.6 617 L437 617 Z" fill="#000"/>
<text x="497.6" y="651.1" font-size="9.45" text-anchor="start" fill="#111" >Вытяжка 600ммх 350мм</text>
<text x="497.6" y="663.5" font-size="9.45" text-anchor="start" fill="#111" >Варочная панель</text>
<text x="497.6" y="675.9" font-size="9.45" text-anchor="start" fill="#111" >600ммх600мм</text>
<path d="M496 660.3 L486.2 660.3 L486.2 535.7" fill="none" stroke="#000" stroke-width="1" />
<path d="M486.2 535.7 L488 541.2 L484.4 541.2 Z" fill="#000"/>
<text x="344.1" y="485.7" font-size="9.45" text-anchor="start" fill="#111" >Холодильник</text>
<text x="335.3" y="497.8" font-size="9.45" text-anchor="start" fill="#111" >900мм х 700мм</text>
<path d="M404.8 487.6 L413.7 487.6 L413.7 454.7" fill="none" stroke="#000" stroke-width="1" />
<path d="M413.7 454.7 L415.5 460.2 L411.9 460.2 Z" fill="#000"/>
<text x="380.3" y="513.5" font-size="9.45" text-anchor="start" fill="#111" >Кофе машина</text>
<text x="399" y="526.9" font-size="9.45" text-anchor="start" fill="#111" >Дух.шкаф</text>
<path d="M444 516.7 L452.4 516.7 L452.4 458.5" fill="none" stroke="#000" stroke-width="1" />
<path d="M452.4 458.5 L454.2 464 L450.6 464 Z" fill="#000"/>
<text x="641.6" y="163" font-size="9.45" text-anchor="start" fill="#111" >Вещ.шкаф</text>
<text x="641.6" y="175.7" font-size="9.45" text-anchor="start" fill="#111" >1480мм х 600мм</text>
<path d="M640 165 L630.8 165 L630.8 214.8" fill="none" stroke="#000" stroke-width="1" />
<path d="M630.8 214.8 L629 209.3 L632.6 209.3 Z" fill="#000"/>
<text x="714.7" y="288.2" font-size="9.45" text-anchor="start" fill="#111" >Пуф Страндмон</text>
<text x="716.5" y="300.9" font-size="9.45" text-anchor="start" fill="#111" >600мм х 400мм</text>
<path d="M712 289.8 L704.4 289.8 L660.4 315.1" fill="none" stroke="#000" stroke-width="1" />
<path d="M660.4 315.1 L664.27 310.8 L666.07 313.92 Z" fill="#000"/>
<text x="723.7" y="333.9" font-size="9.45" text-anchor="start" fill="#111" >Зеркало</text>
<path d="M722 330 L662.6 330" fill="none" stroke="#000" stroke-width="1" />
<path d="M662.6 330 L668.1 328.2 L668.1 331.8 Z" fill="#000"/>
<text x="723.5" y="400.9" font-size="9.45" text-anchor="start" fill="#111" >Глад.доска</text>
<path d="M721.3 397 L679.1 397" fill="none" stroke="#000" stroke-width="1" />
<path d="M679.1 397 L684.6 395.2 L684.6 398.8 Z" fill="#000"/>
<text x="723.5" y="472.4" font-size="9.45" text-anchor="start" fill="#111" >Стиральная</text>
<text x="723.5" y="484.8" font-size="9.45" text-anchor="start" fill="#111" >машина</text>
<text x="723.5" y="497.2" font-size="9.45" text-anchor="start" fill="#111" >600мм х600 мм</text>
<path d="M721.3 481.2 L682.4 481.2" fill="none" stroke="#000" stroke-width="1" />
<path d="M682.4 481.2 L687.9 479.4 L687.9 483 Z" fill="#000"/>
<text x="723.5" y="512" font-size="9.45" text-anchor="start" fill="#111" >Хоз.шкаф</text>
<text x="723.5" y="524.6" font-size="9.45" text-anchor="start" fill="#111" >2550мм х600 мм</text>
<path d="M721.3 514.7 L680.2 514.7" fill="none" stroke="#000" stroke-width="1" />
<path d="M680.2 514.7 L685.7 512.9 L685.7 516.5 Z" fill="#000"/>
<circle cx="637.3" cy="266.6" r="10.8" fill="none" stroke="#2a2ad0" stroke-width="1"/>
<text x="637.3" y="269.8" font-size="9" text-anchor="middle" fill="#2a2ad0" font-style="italic" letter-spacing="0.6">01</text>
<circle cx="380.8" cy="330.6" r="10.8" fill="none" stroke="#2a2ad0" stroke-width="1"/>
<text x="380.8" y="333.8" font-size="9" text-anchor="middle" fill="#2a2ad0" font-style="italic" letter-spacing="0.6">02</text>
<circle cx="384.1" cy="544" r="10.8" fill="none" stroke="#2a2ad0" stroke-width="1"/>
<text x="384.1" y="547.2" font-size="9" text-anchor="middle" fill="#2a2ad0" font-style="italic" letter-spacing="0.6">03</text>
<circle cx="183" cy="569.3" r="10.8" fill="none" stroke="#2a2ad0" stroke-width="1"/>
<text x="183" y="572.5" font-size="9" text-anchor="middle" fill="#2a2ad0" font-style="italic" letter-spacing="0.6">04</text>
<circle cx="636.2" cy="447.6" r="10.8" fill="none" stroke="#2a2ad0" stroke-width="1"/>
<text x="636.2" y="450.8" font-size="9" text-anchor="middle" fill="#2a2ad0" font-style="italic" letter-spacing="0.6">05</text>
<text x="462.6" y="35.4" font-size="16.8" fill="#222" stroke="#fff" stroke-width="0.3" textLength="224" lengthAdjust="spacingAndGlyphs">План расстановки мебели 1 этаж</text>
<line x1="462.6" y1="38.8" x2="686.5" y2="38.8" stroke="#222" stroke-width="1"/>
<rect x="822.5" y="61.6" width="280" height="402.2" fill="#fff" stroke="#000" stroke-width="1.1" />
<line x1="822.5" y1="85" x2="1102.5" y2="85" stroke="#000" stroke-width="1.05"/>
<line x1="822.5" y1="134.7" x2="1102.5" y2="134.7" stroke="#000" stroke-width="1.05"/>
<line x1="822.5" y1="159.5" x2="1102.5" y2="159.5" stroke="#000" stroke-width="1.05"/>
<line x1="822.5" y1="184.5" x2="1102.5" y2="184.5" stroke="#000" stroke-width="1.05"/>
<line x1="822.5" y1="208.7" x2="1102.5" y2="208.7" stroke="#000" stroke-width="1.05"/>
<line x1="822.5" y1="233.7" x2="1102.5" y2="233.7" stroke="#000" stroke-width="1.05"/>
<line x1="822.5" y1="257.6" x2="1102.5" y2="257.6" stroke="#000" stroke-width="1.05"/>
<line x1="822.5" y1="282.3" x2="1102.5" y2="282.3" stroke="#000" stroke-width="1.05"/>
<line x1="822.5" y1="316.4" x2="1102.5" y2="316.4" stroke="#000" stroke-width="1.05"/>
<line x1="822.5" y1="340.6" x2="1102.5" y2="340.6" stroke="#000" stroke-width="1.05"/>
<line x1="822.5" y1="365.7" x2="1102.5" y2="365.7" stroke="#000" stroke-width="1.05"/>
<line x1="822.5" y1="390.4" x2="1102.5" y2="390.4" stroke="#000" stroke-width="1.05"/>
<line x1="822.5" y1="414.6" x2="1102.5" y2="414.6" stroke="#000" stroke-width="1.05"/>
<line x1="822.5" y1="439.6" x2="1102.5" y2="439.6" stroke="#000" stroke-width="1.05"/>
<line x1="871.9" y1="85" x2="871.9" y2="463.8" stroke="#000" stroke-width="1.05"/>
<line x1="1034.5" y1="85" x2="1034.5" y2="463.8" stroke="#000" stroke-width="1.05"/>
<text x="962.5" y="78.2" font-size="13" text-anchor="middle" fill="#111" >Экспликация помещений</text>
<text x="847.2" y="98.3" font-size="13" text-anchor="middle" fill="#111" >Номер</text>
<text x="847.2" y="114.9" font-size="13" text-anchor="middle" fill="#111" >помещ</text>
<text x="847.2" y="131.5" font-size="13" text-anchor="middle" fill="#111" >ения</text>
<text x="953.2" y="114.7" font-size="13" text-anchor="middle" fill="#111" >Наименование</text>
<text x="1068.5" y="106.8" font-size="13" text-anchor="middle" fill="#111" >Площадь</text>
<text x="1068.5" y="123.5" font-size="13" text-anchor="middle" fill="#111" >м2</text>
<text x="847.2" y="151.8" font-size="13" text-anchor="middle" fill="#111" letter-spacing="0.6">01</text>
<text x="874.4" y="151.8" font-size="13" text-anchor="start" fill="#111" >Тамбур</text>
<text x="1068.5" y="151.8" font-size="13" text-anchor="middle" fill="#111" >4,3</text>
<text x="847.2" y="176.7" font-size="13" text-anchor="middle" fill="#111" letter-spacing="0.6">02</text>
<text x="874.4" y="176.7" font-size="13" text-anchor="start" fill="#111" >Гостиная</text>
<text x="1068.5" y="176.7" font-size="13" text-anchor="middle" fill="#111" >47,0</text>
<text x="847.2" y="201.3" font-size="13" text-anchor="middle" fill="#111" letter-spacing="0.6">03</text>
<text x="874.4" y="201.3" font-size="13" text-anchor="start" fill="#111" >Кухня</text>
<text x="1068.5" y="201.3" font-size="13" text-anchor="middle" fill="#111" >15,9</text>
<text x="847.2" y="225.9" font-size="13" text-anchor="middle" fill="#111" letter-spacing="0.6">04</text>
<text x="874.4" y="225.9" font-size="13" text-anchor="start" fill="#111" >Сан.узел 1 этаж</text>
<text x="1068.5" y="225.9" font-size="13" text-anchor="middle" fill="#111" >8,1</text>
<text x="847.2" y="250.35" font-size="13" text-anchor="middle" fill="#111" letter-spacing="0.6">05</text>
<text x="874.4" y="250.35" font-size="13" text-anchor="start" fill="#111" >Лестница. Кладовая</text>
<text x="1068.5" y="250.35" font-size="13" text-anchor="middle" fill="#111" >12,9</text>
<text x="847.2" y="274.65" font-size="13" text-anchor="middle" fill="#111" letter-spacing="0.6">06</text>
<text x="874.4" y="274.65" font-size="13" text-anchor="start" fill="#111" >Холл 2 этаж</text>
<text x="1068.5" y="274.65" font-size="13" text-anchor="middle" fill="#111" >15,3</text>
<text x="847.2" y="304.05" font-size="13" text-anchor="middle" fill="#111" letter-spacing="0.6">07</text>
<text x="874.4" y="295.9" font-size="13" text-anchor="start" fill="#111" >Спальня родителей 2</text>
<text x="874.4" y="312.5" font-size="13" text-anchor="start" fill="#111" >этаж</text>
<text x="1068.5" y="304.05" font-size="13" text-anchor="middle" fill="#111" >22,2</text>
<text x="847.2" y="333.2" font-size="13" text-anchor="middle" fill="#111" letter-spacing="0.6">08</text>
<text x="874.4" y="333.2" font-size="13" text-anchor="start" fill="#111" >Кабинет 2 этаж</text>
<text x="1068.5" y="333.2" font-size="13" text-anchor="middle" fill="#111" >4,2</text>
<text x="847.2" y="357.85" font-size="13" text-anchor="middle" fill="#111" letter-spacing="0.6">09</text>
<text x="874.4" y="357.85" font-size="13" text-anchor="start" fill="#111" >Гардероб 2этаж</text>
<text x="1068.5" y="357.85" font-size="13" text-anchor="middle" fill="#111" >3,8</text>
<text x="847.2" y="382.75" font-size="13" text-anchor="middle" fill="#111" letter-spacing="0.6">10</text>
<text x="874.4" y="382.75" font-size="13" text-anchor="start" fill="#111" >Сан.узел 2 эт</text>
<text x="1068.5" y="382.75" font-size="13" text-anchor="middle" fill="#111" >3,5</text>
<text x="847.2" y="407.2" font-size="13" text-anchor="middle" fill="#111" letter-spacing="0.6">11</text>
<text x="874.4" y="407.2" font-size="13" text-anchor="start" fill="#111" >Спальня детская 1 2этаж</text>
<text x="1068.5" y="407.2" font-size="13" text-anchor="middle" fill="#111" >13,3</text>
<text x="847.2" y="431.8" font-size="13" text-anchor="middle" fill="#111" letter-spacing="0.6">12</text>
<text x="874.4" y="431.8" font-size="13" text-anchor="start" fill="#111" >Спальня детская 2</text>
<text x="1068.5" y="431.8" font-size="13" text-anchor="middle" fill="#111" >20,2</text>
<text x="1068.5" y="456" font-size="10" text-anchor="middle" fill="#111" font-weight="bold">170,7 м²</text>
<rect x="29.6" y="12.5" width="1076" height="881.7" fill="none" stroke="#000" stroke-width="1.1" />
<line x1="1105.6" y1="149.5" x2="1108" y2="149.5" stroke="#000" stroke-width="1"/>
<line x1="1105.6" y1="441" x2="1108" y2="441" stroke="#000" stroke-width="1"/>
<line x1="1105.6" y1="488.6" x2="1108" y2="488.6" stroke="#000" stroke-width="1"/>
<line x1="1105.6" y1="534.3" x2="1108" y2="534.3" stroke="#000" stroke-width="1"/>
<line x1="1105.6" y1="581.4" x2="1108" y2="581.4" stroke="#000" stroke-width="1"/>
<line x1="1105.6" y1="630" x2="1108" y2="630" stroke="#000" stroke-width="1"/>
<line x1="1105.6" y1="661.6" x2="1108" y2="661.6" stroke="#000" stroke-width="1"/>
<line x1="1105.6" y1="771" x2="1108" y2="771" stroke="#000" stroke-width="1"/>
<line x1="1105.6" y1="788.2" x2="1108" y2="788.2" stroke="#000" stroke-width="1"/>
</svg>
</body></html>
